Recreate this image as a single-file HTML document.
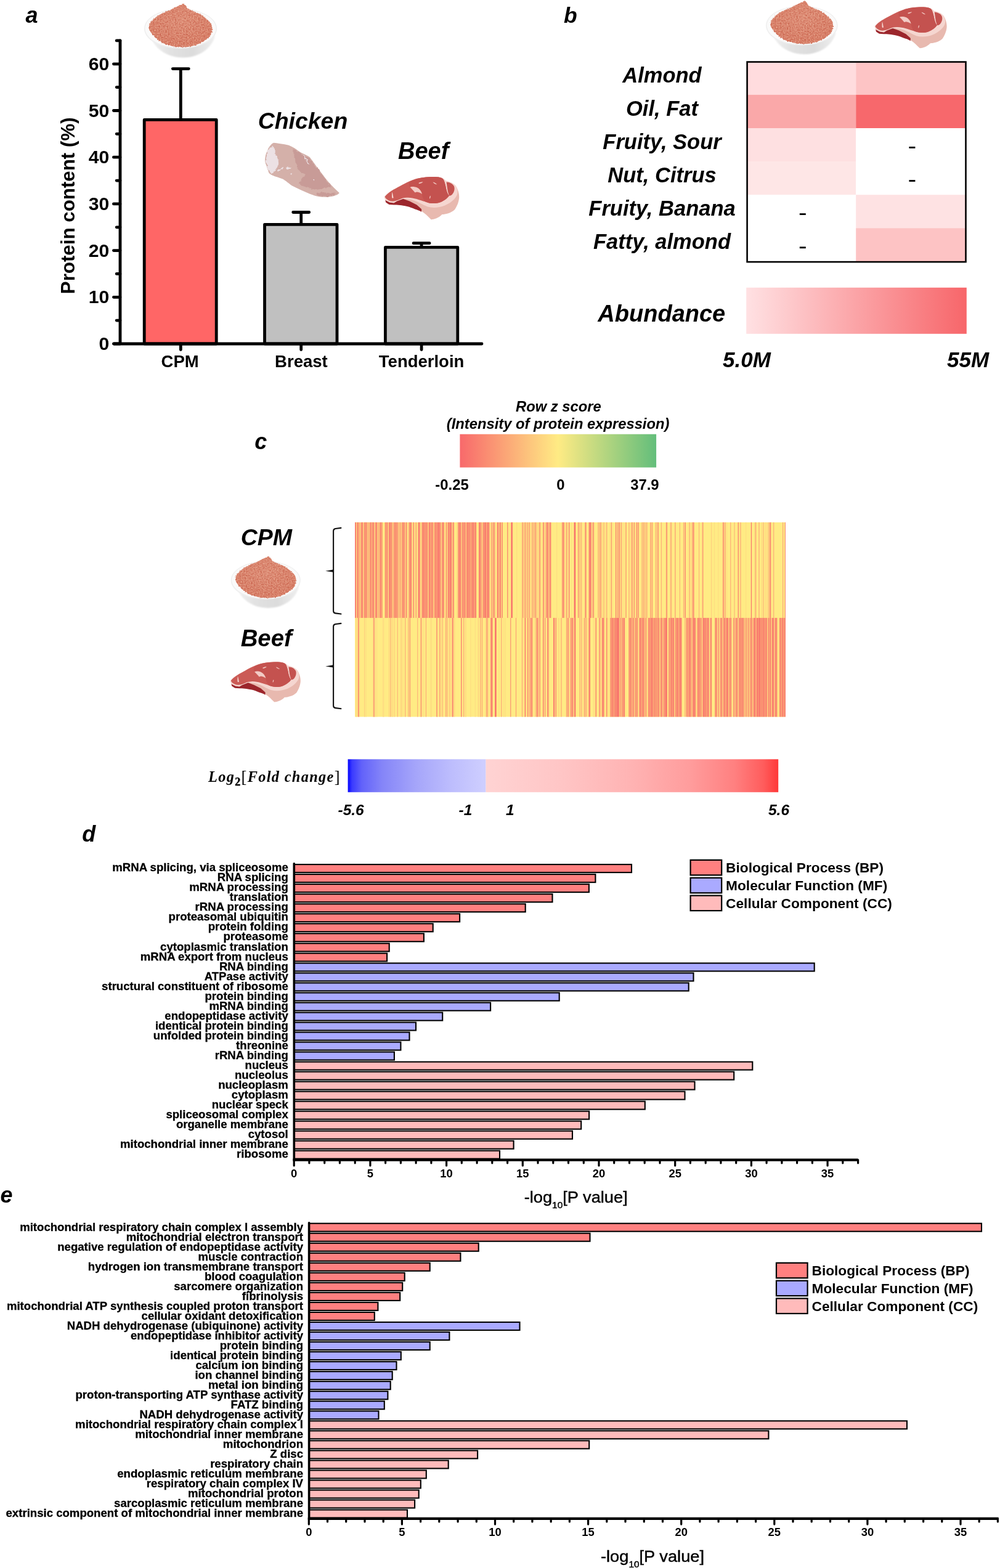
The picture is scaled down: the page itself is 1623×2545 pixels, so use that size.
<!DOCTYPE html>
<html lang="en">
<head>
<meta charset="utf-8">
<title>Figure: protein content, flavour compounds and proteomics of CPM versus beef</title>
<style>
html, body { margin: 0; padding: 0; background: #fff; }
body { width: 1623px; height: 2545px; overflow: hidden; }
svg { display: block; font-family: "Liberation Sans", sans-serif; fill: #000; }
text { white-space: pre; }
</style>
</head>
<body>
<svg width="1623" height="2545" viewBox="0 0 1623 2545">
<defs>
<linearGradient id="gAb" x1="0" x2="1" y1="0" y2="0"><stop offset="0" stop-color="#FFE1E3"/><stop offset="1" stop-color="#F7666A"/></linearGradient>
<linearGradient id="gZ" x1="0" x2="1" y1="0" y2="0"><stop offset="0" stop-color="#F8696B"/><stop offset="0.5" stop-color="#FFEB84"/><stop offset="1" stop-color="#63BE7B"/></linearGradient>
<linearGradient id="gBlue" x1="0" x2="1" y1="0" y2="0"><stop offset="0" stop-color="#0505FF"/><stop offset="0.03" stop-color="#3A3AFF"/><stop offset="0.1" stop-color="#6262FA"/><stop offset="0.25" stop-color="#8585F8"/><stop offset="0.5" stop-color="#A6A6FA"/><stop offset="0.75" stop-color="#BDBDFD"/><stop offset="1" stop-color="#CFCFFF"/></linearGradient>
<linearGradient id="gRed" x1="0" x2="1" y1="0" y2="0"><stop offset="0" stop-color="#FFD3D3"/><stop offset="0.25" stop-color="#FFC6C6"/><stop offset="0.5" stop-color="#FFB3B3"/><stop offset="0.7" stop-color="#FF9C9C"/><stop offset="0.85" stop-color="#FF8080"/><stop offset="0.95" stop-color="#FF5C5C"/><stop offset="1" stop-color="#FF3838"/></linearGradient>
<radialGradient id="gPow" cx="0.5" cy="0.4" r="0.65"><stop offset="0" stop-color="#DF907A"/><stop offset="1" stop-color="#D67B65"/></radialGradient>
<linearGradient id="gBody" x1="0" x2="1" y1="0" y2="0"><stop offset="0" stop-color="#F1F1F1"/><stop offset="0.3" stop-color="#E2E2E2"/><stop offset="0.65" stop-color="#DCDCDC"/><stop offset="1" stop-color="#EFEFEF"/></linearGradient>
<filter id="grain" x="-5%" y="-5%" width="110%" height="110%" color-interpolation-filters="sRGB">
<feTurbulence type="fractalNoise" baseFrequency="0.45" numOctaves="2" seed="11" result="t"/>
<feDisplacementMap in="SourceGraphic" in2="t" scale="3.2" xChannelSelector="R" yChannelSelector="G" result="d"/>
<feColorMatrix in="t" type="matrix" values="0 0 0 0 0.77  0 0 0 0 0.36  0 0 0 0 0.27  2.4 0 0 0 -1.05" result="dk"/>
<feColorMatrix in="t" type="matrix" values="0 0 0 0 0.92  0 0 0 0 0.68  0 0 0 0 0.58  0 2.4 0 0 -1.1" result="lt"/>
<feComposite in="dk" in2="d" operator="in" result="dk2"/>
<feComposite in="lt" in2="d" operator="in" result="lt2"/>
<feMerge><feMergeNode in="d"/><feMergeNode in="dk2"/><feMergeNode in="lt2"/></feMerge>
</filter>
<filter id="rough" x="-5%" y="-5%" width="110%" height="110%" color-interpolation-filters="sRGB">
<feTurbulence type="fractalNoise" baseFrequency="0.22" numOctaves="2" seed="5" result="t"/>
<feDisplacementMap in="SourceGraphic" in2="t" scale="5" xChannelSelector="R" yChannelSelector="G"/>
</filter>
<filter id="soft" x="-10%" y="-10%" width="120%" height="120%"><feGaussianBlur stdDeviation="1.2"/></filter>
<filter id="hblur" x="0" y="0" width="1" height="1" color-interpolation-filters="sRGB"><feGaussianBlur stdDeviation="0.33 0"/></filter>
<g id="bowl">
<path d="M24 58 C30 78 50 93.5 77 93.5 C104 93.5 124 78 129 58 Z" fill="url(#gBody)" filter="url(#soft)"/>
<ellipse cx="73" cy="46.5" rx="59" ry="32.5" fill="#EFEFEF"/>
<ellipse cx="73" cy="46.2" rx="57.4" ry="31" fill="#FAFAFA"/>
<path d="M21.8 43 C23 36 30 29 39 24 C46 20 55 17 62 13.5 C68 10.5 73 8 77.6 5.8 C80 6.8 81.5 9.5 84 13.5 C89 16.5 94 18 98 19.8 C104 22.5 109 25.5 113 29 C118 32.5 122 36.5 123.5 41 C125 46 124.5 52 122 56.5 C119 62 112 67 103 71 C94 75 84 76.8 74 76.6 C63 76.2 53 74 45 70 C37 66 30 60 26 54 C23 50 21.3 46.5 21.8 43 Z" fill="url(#gPow)" filter="url(#grain)"/>
</g>
<g id="beef">
<path d="M13.7 49.8 C20 42 30 37 39 32.2 C50 26 60 21.5 68.4 19.5 C78 17.3 90 16.5 100 17.3 C106 18 110 19.5 113.3 23.4 C120 24.5 127 28 130 32.2 C134 38 135.5 46 135.2 50.8 C134.5 59 131 66 128 70.3 C122 76 113 78 107.5 78.1 C102 84 95 86 89.8 86.4 C85 82 80 76 73.2 72.3 C63 67 52 63 34.2 60.5 C27 61 20 59 16.6 56.6 Z" fill="#E8B9AF"/>
<path d="M15.2 54.8 L22.5 58.2 L29.3 58.6 L34.2 55.6 L43.5 52.5 L54.7 56.6 L66.4 62.5 L74.2 69.5 L74 73.8 C70 71.5 67 70.5 63.5 69.5 C59 67.5 55 66 50.8 65 C46 64 42 63.3 39 63 C35 62.6 32 62.5 29.3 62.5 L21.5 62 L16.2 58.5 Z" fill="#9C262C"/>
<path d="M13.7 49.8 C20 42 30 37 39 32.2 C50 26 60 21.5 68.4 19.5 C78 17.3 90 16.5 100 17.3 C106 18 110 19.5 113.3 23.4 C120 24.5 127 28 130 32.2 C133 37 133.5 43 131 48 C127 55 120 60 112 63.5 C103 67 93 68 84 65.5 C75 62 66 56 57 54 C50 52.8 46 52.5 43 53.2 L34.2 56.6 L29.3 59.6 L22.5 58.6 L15.2 54.8 Z" fill="#F5D6D0"/>
<path d="M14.6 49.3 C20 42 30 37 39 32.2 C50 26 60 21.5 68.4 19.5 C78 17.3 90 16.5 100 17.3 C106 18 108.5 19.5 110.3 22.4 C112 26 113.5 32 114.5 38 C115.5 42 117 46 119 47.5 C116 52 110 56.5 104 58.5 C96 61 87 60.5 80.5 57.5 C77 55.5 75.5 51 74.7 47.5 C73 45 70 42.5 66 41.5 C62 42 60 43 63 41 C60 38 57 35 55.5 34 C58 32.5 63 33 67 34.5 C71 36.5 74 40.5 75 45 C75.5 50 77 54 80.5 57.5 C70 54.5 60 50 50 50.8 C45 51 42 52 39 53.5 C34 56 29 57 24.4 56.5 C20 55.5 16 53 14.6 49.3 Z" fill="#CB5B56"/>
<path d="M55.5 24.5 C62 21.5 70 18.8 78 18 C88 16.8 98 16.8 104 18 C108 19 109.5 20.5 110.3 22.4 C112 26 113.5 32 114.5 38 C115.5 42 117 46 119 47.5 C116 52 110 56.5 104 58.5 C96 61 87 60.5 80.5 57.5 C77 54 75.5 50 75 45 C74 40.5 71 36.5 67 34.5 C63 33 58 32.5 55.5 34 C53.5 31 53.5 27.5 55.5 24.5 Z" fill="#C4524F"/>
<path d="M114.5 25.5 C120 25.5 125 28.5 127 32.5 C128.5 37 127 42 124 45.5 C122 47.5 120 48 119 47.5 C117.5 44 116.5 40 116 36 C115.5 32 115 28.5 114.5 25.5 Z" fill="#C4524F"/>
<path d="M55.5 34 C58 32.5 63 33 67 34.5 C71 36.5 74 40.5 75 45 C73 43.5 70 42 66.5 41.6 L63.5 42.5 C61 39.5 58 36 55.5 34 Z" fill="#F2CBC5"/>
<path d="M26.5 41.5 C27.5 44.5 28 48 28.6 51 C28 52 26.8 52 26.2 51 C25.8 48 26 44.5 26.5 41.5 Z" fill="#F5D6D0"/>
<path d="M69.5 27 C71.5 25.8 74.5 25 76.5 25.3 C75.5 26.8 72.5 28 70 28.2 Z M92.5 25.5 C95 26 98 27.8 99.3 29.3 C97 29.5 94 27.8 92.5 25.5 Z M88.5 47.5 C89.3 49 88.5 51.5 87.3 52.8 C86.8 51 87.3 48.8 88.5 47.5 Z" fill="#F2CBC5"/>
</g>
<g id="chicken">
<path d="M29.3 6.8 C34 7 45 9 53.7 10.7 C60 13 67 18 73.2 22.5 C80 26 85 28 87.9 30.3 C93 37 100 47 107.4 56.6 C114 66 124 78 135.7 87.9 C134 91 128 93.5 117.2 94.7 C108 95.3 98 94 87.9 89.8 C78 85.5 68 81 58.6 76.2 C52 71 46 66.5 43.9 65.4 C38 63.5 32 61.5 29.3 60.5 C25 58.5 22.5 57 21.5 55.7 C19.5 50 17.5 46 17.6 43.9 C15.5 40 15 36.5 15.1 34.2 C15.5 29 16.5 25 17.6 22.5 C19.5 17.5 21 14.5 22.5 12.7 C25 9.5 27 7.5 29.3 6.8 Z" fill="#D4B0A9"/>
<g filter="url(#rough)">
<path d="M61 17 C66 19 72 22 77 26 C83 29 87 31 89 34 C95 42 101 50 107.4 58 C113 66 120 75 124 79 C118 78 112 79 106 82 C100 83 94 83 88 81 C80 79 74 76 70 72 C72 68 76 63 80 58 C76 55 70 52 68 49 C66 44 66 38 64 33 C62 28 61 22 61 17 Z" fill="#C89B97"/>
<path d="M99 88 C106 86.5 114 87 121 89 C125 89.5 128 89 131 88 C129 91 124 93 117 94 C110 94.5 104 93.5 100 92 C98.5 91 98.5 89.5 99 88 Z" fill="#C89B97"/>
<path d="M23.5 14.5 C25.5 12.5 28 12.5 29.5 14 C31 18 32 24 34 29 C36.5 33 37.5 38 37 42 C35 47 31 52 28 55 C25 56 23.5 55 22.5 53.5 C20.5 49.5 18.8 45 18.8 43 C17 39 16.8 36 16.8 34 C17 29 18 25 19 22.5 C20.5 18 22 16 23.5 14.5 Z" fill="#ECE1E4"/>
<path d="M36 51 C39 49 43 47.5 46 47 C44 50 40 52.5 37 53.5 Z M50 46.5 C53 45.5 56 45.5 58 46.5 C56 48.5 53 50 51 50 Z M76 25 C79 27.5 83 33 86 40 C86.5 42 85.5 42.5 84.5 41 C82 36 79 30 76 25 Z M56 57 L59 56 L58 59 Z M92 66 L96 66 L94 68.5 Z" fill="#ECE1E4"/>
</g>
</g>
</defs>

<g id="panel-a">
<text x="41.5" y="36.8" font-size="36" font-weight="bold" font-style="italic" text-anchor="start">a</text>
<path d="M293.3 194.4 V111.6 M280.3 111.6 H306.3" stroke="#000" stroke-width="4.8" stroke-linecap="round" fill="none"/>
<rect x="234.2" y="194.4" width="117.0" height="363.6" fill="#FF6666" stroke="#000" stroke-width="4.8" stroke-linejoin="round"/>
<path d="M488.7 364.3 V344.5 M475.7 344.5 H501.7" stroke="#000" stroke-width="4.8" stroke-linecap="round" fill="none"/>
<rect x="429.5" y="364.3" width="117.5" height="193.7" fill="#C0C0C0" stroke="#000" stroke-width="4.8" stroke-linejoin="round"/>
<path d="M684.1 401.4 V394.7 M671.1 394.7 H697.1" stroke="#000" stroke-width="4.8" stroke-linecap="round" fill="none"/>
<rect x="625.4" y="401.4" width="117.4" height="156.6" fill="#C0C0C0" stroke="#000" stroke-width="4.8" stroke-linejoin="round"/>
<path d="M195 66 V558.0 M185 558.0 H782" stroke="#000" stroke-width="4.8" stroke-linecap="round" fill="none"/>
<path d="M184.4 558.0 H195 M189.2 520.1 H195 M184.4 482.3 H195 M189.2 444.4 H195 M184.4 406.6 H195 M189.2 368.8 H195 M184.4 330.9 H195 M189.2 293.1 H195 M184.4 255.2 H195 M189.2 217.3 H195 M184.4 179.5 H195 M189.2 141.6 H195 M184.4 103.8 H195 M189.2 65.9 H195 M293.3 558.0 V567.5 M488.7 558.0 V567.5 M684.1 558.0 V567.5 " stroke="#000" stroke-width="4.8" stroke-linecap="round" fill="none"/>
<text x="177.3" y="568.0" font-size="30.2" font-weight="bold" font-style="normal" text-anchor="end">0</text>
<text x="177.3" y="492.3" font-size="30.2" font-weight="bold" font-style="normal" text-anchor="end">10</text>
<text x="177.3" y="416.6" font-size="30.2" font-weight="bold" font-style="normal" text-anchor="end">20</text>
<text x="177.3" y="340.9" font-size="30.2" font-weight="bold" font-style="normal" text-anchor="end">30</text>
<text x="177.3" y="265.2" font-size="30.2" font-weight="bold" font-style="normal" text-anchor="end">40</text>
<text x="177.3" y="189.5" font-size="30.2" font-weight="bold" font-style="normal" text-anchor="end">50</text>
<text x="177.3" y="113.8" font-size="30.2" font-weight="bold" font-style="normal" text-anchor="end">60</text>
<text x="292.1" y="596" font-size="27.5" font-weight="bold" font-style="normal" text-anchor="middle">CPM</text>
<text x="488.9" y="596" font-size="27.5" font-weight="bold" font-style="normal" text-anchor="middle">Breast</text>
<text x="684.1" y="596" font-size="27.5" font-weight="bold" font-style="normal" text-anchor="middle">Tenderloin</text>
<text transform="translate(121 333.8) rotate(-90)" font-size="31.3" font-weight="bold" text-anchor="middle">Protein content (%)</text>
<text x="491.5" y="209.4" font-size="37.4" font-weight="bold" font-style="italic" text-anchor="middle">Chicken</text>
<text x="687.2" y="257.5" font-size="38" font-weight="bold" font-style="italic" text-anchor="middle">Beef</text>
<use href="#bowl" x="220" y="0"/>
<use href="#chicken" x="415" y="225"/>
<use href="#beef" x="610" y="270"/>
</g>
<g id="panel-b">
<text x="915.0" y="36.5" font-size="35.5" font-weight="bold" font-style="italic" text-anchor="start">b</text>
<use href="#bowl" transform="translate(1229.2 -4.4) scale(0.988)"/>
<use href="#beef" transform="translate(1406.4 -4.9) scale(0.963)"/>
<rect x="1212.6" y="100.5" width="176.6" height="53.7" fill="#FFDCDE"/>
<rect x="1389.2" y="100.5" width="178.3" height="53.7" fill="#FDC4C5"/>
<text x="1074.5" y="133.7" font-size="34.5" font-weight="bold" font-style="italic" text-anchor="middle">Almond</text>
<rect x="1212.6" y="153.9" width="176.6" height="54.4" fill="#FAA8A9"/>
<rect x="1389.2" y="153.9" width="178.3" height="54.4" fill="#F7686C"/>
<text x="1074.5" y="187.7" font-size="34.5" font-weight="bold" font-style="italic" text-anchor="middle">Oil, Fat</text>
<rect x="1212.6" y="208.0" width="176.6" height="54.4" fill="#FEE0E1"/>
<rect x="1389.2" y="208.0" width="178.3" height="54.4" fill="#FFFFFF"/>
<text x="1074.5" y="241.7" font-size="34.5" font-weight="bold" font-style="italic" text-anchor="middle">Fruity, Sour</text>
<rect x="1212.6" y="262.1" width="176.6" height="54.4" fill="#FEE6E6"/>
<rect x="1389.2" y="262.1" width="178.3" height="54.4" fill="#FFFFFF"/>
<text x="1074.5" y="295.8" font-size="34.5" font-weight="bold" font-style="italic" text-anchor="middle">Nut, Citrus</text>
<rect x="1212.6" y="316.2" width="176.6" height="54.4" fill="#FFFFFF"/>
<rect x="1389.2" y="316.2" width="178.3" height="54.4" fill="#FEE2E3"/>
<text x="1074.5" y="349.8" font-size="34.5" font-weight="bold" font-style="italic" text-anchor="middle">Fruity, Banana</text>
<rect x="1212.6" y="370.3" width="176.6" height="55.1" fill="#FFFFFF"/>
<rect x="1389.2" y="370.3" width="178.3" height="55.1" fill="#FDC3C4"/>
<text x="1074.5" y="403.8" font-size="34.5" font-weight="bold" font-style="italic" text-anchor="middle">Fatty, almond</text>
<rect x="1475.4" y="238.0" width="10" height="2.8" fill="#000"/>
<rect x="1475.4" y="292.1" width="10" height="2.8" fill="#000"/>
<rect x="1297.8" y="346.20000000000005" width="10" height="2.8" fill="#000"/>
<rect x="1297.8" y="400.40000000000003" width="10" height="2.8" fill="#000"/>
<rect x="1212.6" y="100.5" width="354.9" height="324.6" fill="none" stroke="#000" stroke-width="2.6"/>
<rect x="1211.2" y="466.8" width="357.6" height="75" fill="url(#gAb)"/>
<text x="1073.8" y="521.5" font-size="38" font-weight="bold" font-style="italic" text-anchor="middle">Abundance</text>
<text x="1212" y="595.8" font-size="35" font-weight="bold" font-style="italic" text-anchor="middle">5.0M</text>
<text x="1571" y="595.8" font-size="35" font-weight="bold" font-style="italic" text-anchor="middle">55M</text>
</g>
<g id="panel-c">
<text x="413.2" y="729.4" font-size="36" font-weight="bold" font-style="italic" text-anchor="start">c</text>
<text x="906.4" y="667.8" font-size="23.75" font-weight="bold" font-style="italic" text-anchor="middle">Row z score</text>
<text x="905.6" y="695.6" font-size="23.75" font-weight="bold" font-style="italic" text-anchor="middle">(Intensity of protein expression)</text>
<rect x="746.4" y="704.7" width="318.7" height="54" fill="url(#gZ)"/>
<text x="733.5" y="794.8" font-size="23.9" font-weight="bold" font-style="normal" text-anchor="middle">-0.25</text>
<text x="909.8" y="794.8" font-size="23.9" font-weight="bold" font-style="normal" text-anchor="middle">0</text>
<text x="1046.4" y="794.8" font-size="23.9" font-weight="bold" font-style="normal" text-anchor="middle">37.9</text>
<text x="432.4" y="885.0" font-size="37.5" font-weight="bold" font-style="italic" text-anchor="middle">CPM</text>
<text x="432.2" y="1049.2" font-size="38.3" font-weight="bold" font-style="italic" text-anchor="middle">Beef</text>
<use href="#bowl" transform="translate(361.3 897.2) scale(0.958)"/>
<use href="#beef" transform="translate(361.1 1058.6) scale(0.937)"/>
<path d="M553.4 856.9 L544.6 858.0 Q541.1 858.5 541.1 861.9 V991.5 Q541.1 994.9 544.6 995.4 L553.4 996.5" stroke="#111" stroke-width="2.1" fill="none" stroke-linecap="round" stroke-linejoin="round"/>
<path d="M528.2 926.7 L539.6 924.8 L541.6 923.1 V930.3 L539.6 928.6 Z" fill="#111"/>
<path d="M553.4 1011.9 L544.6 1013.0 Q541.1 1013.5 541.1 1016.9 V1145.2 Q541.1 1148.6 544.6 1149.1 L553.4 1150.2" stroke="#111" stroke-width="2.1" fill="none" stroke-linecap="round" stroke-linejoin="round"/>
<path d="M528.2 1081.4 L539.6 1079.5 L541.6 1077.8 V1085.0 L539.6 1083.3 Z" fill="#111"/>
<g filter="url(#hblur)">
<rect x="576.0" y="847.8" width="699.0" height="315.7" fill="#FFEB84"/>
<rect x="576.00" y="847.8" width="1.25" height="155.1" fill="#F98370"/><rect x="577.25" y="847.8" width="1.25" height="155.1" fill="#F8706C"/><rect x="578.50" y="847.8" width="1.25" height="155.1" fill="#FEDE82"/><rect x="579.74" y="847.8" width="1.25" height="155.1" fill="#F8706C"/><rect x="580.99" y="847.8" width="1.25" height="155.1" fill="#F98370"/><rect x="583.49" y="847.8" width="1.25" height="155.1" fill="#F98370"/><rect x="585.99" y="847.8" width="1.25" height="155.1" fill="#F97C6F"/><rect x="587.23" y="847.8" width="1.25" height="155.1" fill="#F8706C"/><rect x="588.48" y="847.8" width="1.25" height="155.1" fill="#FA9072"/><rect x="590.98" y="847.8" width="2.50" height="155.1" fill="#F98370"/><rect x="593.48" y="847.8" width="1.25" height="155.1" fill="#FA8A71"/><rect x="594.72" y="847.8" width="1.25" height="155.1" fill="#F98370"/><rect x="595.97" y="847.8" width="1.25" height="155.1" fill="#FEDE82"/><rect x="597.22" y="847.8" width="1.25" height="155.1" fill="#FA9072"/><rect x="599.72" y="847.8" width="1.25" height="155.1" fill="#F98370"/><rect x="600.96" y="847.8" width="1.25" height="155.1" fill="#FA9072"/><rect x="602.21" y="847.8" width="2.50" height="155.1" fill="#FB9D75"/><rect x="604.71" y="847.8" width="2.50" height="155.1" fill="#F98370"/><rect x="608.45" y="847.8" width="1.25" height="155.1" fill="#FA9072"/><rect x="609.70" y="847.8" width="1.25" height="155.1" fill="#FA8A71"/><rect x="610.95" y="847.8" width="1.25" height="155.1" fill="#F97C6F"/><rect x="613.45" y="847.8" width="1.25" height="155.1" fill="#FA9072"/><rect x="615.94" y="847.8" width="1.25" height="155.1" fill="#F97C6F"/><rect x="617.19" y="847.8" width="2.50" height="155.1" fill="#FA9072"/><rect x="619.69" y="847.8" width="1.25" height="155.1" fill="#FB9D75"/><rect x="624.68" y="847.8" width="1.25" height="155.1" fill="#FA8A71"/><rect x="625.93" y="847.8" width="1.25" height="155.1" fill="#FB9D75"/><rect x="627.18" y="847.8" width="2.50" height="155.1" fill="#FA9072"/><rect x="630.92" y="847.8" width="1.25" height="155.1" fill="#F97C6F"/><rect x="632.17" y="847.8" width="2.50" height="155.1" fill="#F98370"/><rect x="634.67" y="847.8" width="1.25" height="155.1" fill="#FA9072"/><rect x="635.91" y="847.8" width="1.25" height="155.1" fill="#FB9D75"/><rect x="638.41" y="847.8" width="1.25" height="155.1" fill="#FA8A71"/><rect x="639.66" y="847.8" width="1.25" height="155.1" fill="#FA9072"/><rect x="640.91" y="847.8" width="1.25" height="155.1" fill="#FA8A71"/><rect x="642.16" y="847.8" width="2.50" height="155.1" fill="#FA9072"/><rect x="644.65" y="847.8" width="1.25" height="155.1" fill="#F98370"/><rect x="647.15" y="847.8" width="1.25" height="155.1" fill="#F98370"/><rect x="648.40" y="847.8" width="1.25" height="155.1" fill="#FEDE82"/><rect x="649.64" y="847.8" width="1.25" height="155.1" fill="#FA8A71"/><rect x="652.14" y="847.8" width="1.25" height="155.1" fill="#FA9072"/><rect x="653.39" y="847.8" width="1.25" height="155.1" fill="#F8706C"/><rect x="654.64" y="847.8" width="2.50" height="155.1" fill="#FA9072"/><rect x="658.38" y="847.8" width="1.25" height="155.1" fill="#F97C6F"/><rect x="659.63" y="847.8" width="1.25" height="155.1" fill="#FB9D75"/><rect x="663.38" y="847.8" width="1.25" height="155.1" fill="#F98370"/><rect x="664.62" y="847.8" width="1.25" height="155.1" fill="#FA9072"/><rect x="665.87" y="847.8" width="1.25" height="155.1" fill="#F97C6F"/><rect x="667.12" y="847.8" width="1.25" height="155.1" fill="#FA9072"/><rect x="669.62" y="847.8" width="1.25" height="155.1" fill="#FED17F"/><rect x="670.86" y="847.8" width="1.25" height="155.1" fill="#F97C6F"/><rect x="674.61" y="847.8" width="1.25" height="155.1" fill="#FA8A71"/><rect x="678.35" y="847.8" width="2.50" height="155.1" fill="#F98370"/><rect x="680.85" y="847.8" width="1.25" height="155.1" fill="#FA9072"/><rect x="682.10" y="847.8" width="2.50" height="155.1" fill="#FEDE82"/><rect x="684.59" y="847.8" width="1.25" height="155.1" fill="#F97C6F"/><rect x="685.84" y="847.8" width="1.25" height="155.1" fill="#FA8A71"/><rect x="687.09" y="847.8" width="2.50" height="155.1" fill="#F98370"/><rect x="689.59" y="847.8" width="1.25" height="155.1" fill="#FA9072"/><rect x="690.84" y="847.8" width="1.25" height="155.1" fill="#F98370"/><rect x="692.08" y="847.8" width="1.25" height="155.1" fill="#FA9072"/><rect x="693.33" y="847.8" width="1.25" height="155.1" fill="#F98370"/><rect x="695.83" y="847.8" width="1.25" height="155.1" fill="#F8706C"/><rect x="697.08" y="847.8" width="1.25" height="155.1" fill="#FA8A71"/><rect x="698.33" y="847.8" width="1.25" height="155.1" fill="#F98370"/><rect x="699.57" y="847.8" width="3.74" height="155.1" fill="#FA9072"/><rect x="704.57" y="847.8" width="1.25" height="155.1" fill="#F98370"/><rect x="705.81" y="847.8" width="1.25" height="155.1" fill="#FB9D75"/><rect x="707.06" y="847.8" width="1.25" height="155.1" fill="#F8706C"/><rect x="708.31" y="847.8" width="1.25" height="155.1" fill="#FA9072"/><rect x="709.56" y="847.8" width="2.50" height="155.1" fill="#F97C6F"/><rect x="712.06" y="847.8" width="2.50" height="155.1" fill="#F98370"/><rect x="714.55" y="847.8" width="1.25" height="155.1" fill="#FA9072"/><rect x="717.05" y="847.8" width="1.25" height="155.1" fill="#F97C6F"/><rect x="718.30" y="847.8" width="1.25" height="155.1" fill="#F98370"/><rect x="719.54" y="847.8" width="1.25" height="155.1" fill="#F8706C"/><rect x="723.29" y="847.8" width="1.25" height="155.1" fill="#FB9D75"/><rect x="724.54" y="847.8" width="1.25" height="155.1" fill="#FA9072"/><rect x="725.79" y="847.8" width="1.25" height="155.1" fill="#FEDE82"/><rect x="727.03" y="847.8" width="1.25" height="155.1" fill="#F8706C"/><rect x="728.28" y="847.8" width="1.25" height="155.1" fill="#F97C6F"/><rect x="729.53" y="847.8" width="3.74" height="155.1" fill="#F98370"/><rect x="734.52" y="847.8" width="1.25" height="155.1" fill="#F98370"/><rect x="735.77" y="847.8" width="1.25" height="155.1" fill="#FA9072"/><rect x="740.76" y="847.8" width="2.50" height="155.1" fill="#FEDE82"/><rect x="743.26" y="847.8" width="1.25" height="155.1" fill="#F98370"/><rect x="744.51" y="847.8" width="1.25" height="155.1" fill="#F8706C"/><rect x="745.76" y="847.8" width="2.50" height="155.1" fill="#F98370"/><rect x="749.50" y="847.8" width="1.25" height="155.1" fill="#F97C6F"/><rect x="750.75" y="847.8" width="1.25" height="155.1" fill="#FA9072"/><rect x="752.00" y="847.8" width="1.25" height="155.1" fill="#FB9D75"/><rect x="753.25" y="847.8" width="1.25" height="155.1" fill="#F97C6F"/><rect x="754.49" y="847.8" width="1.25" height="155.1" fill="#F8706C"/><rect x="756.99" y="847.8" width="1.25" height="155.1" fill="#F97C6F"/><rect x="758.24" y="847.8" width="1.25" height="155.1" fill="#F8706C"/><rect x="759.49" y="847.8" width="1.25" height="155.1" fill="#F97C6F"/><rect x="760.74" y="847.8" width="1.25" height="155.1" fill="#F98370"/><rect x="761.98" y="847.8" width="2.50" height="155.1" fill="#FB9D75"/><rect x="764.48" y="847.8" width="1.25" height="155.1" fill="#F98370"/><rect x="765.73" y="847.8" width="1.25" height="155.1" fill="#FA8A71"/><rect x="766.98" y="847.8" width="2.50" height="155.1" fill="#F98370"/><rect x="769.47" y="847.8" width="1.25" height="155.1" fill="#FA9072"/><rect x="770.72" y="847.8" width="1.25" height="155.1" fill="#F97C6F"/><rect x="771.97" y="847.8" width="1.25" height="155.1" fill="#FA9072"/><rect x="776.96" y="847.8" width="2.50" height="155.1" fill="#F98370"/><rect x="779.46" y="847.8" width="1.25" height="155.1" fill="#F97C6F"/><rect x="780.71" y="847.8" width="1.25" height="155.1" fill="#FB9D75"/><rect x="783.20" y="847.8" width="2.50" height="155.1" fill="#FA9072"/><rect x="785.70" y="847.8" width="1.25" height="155.1" fill="#F98370"/><rect x="786.95" y="847.8" width="1.25" height="155.1" fill="#F97C6F"/><rect x="788.20" y="847.8" width="1.25" height="155.1" fill="#F8706C"/><rect x="789.44" y="847.8" width="1.25" height="155.1" fill="#FB9D75"/><rect x="790.69" y="847.8" width="1.25" height="155.1" fill="#F8706C"/><rect x="791.94" y="847.8" width="1.25" height="155.1" fill="#FA8A71"/><rect x="793.19" y="847.8" width="1.25" height="155.1" fill="#F97C6F"/><rect x="796.93" y="847.8" width="1.25" height="155.1" fill="#FA9072"/><rect x="799.43" y="847.8" width="1.25" height="155.1" fill="#F98370"/><rect x="800.68" y="847.8" width="1.25" height="155.1" fill="#FCAA78"/><rect x="801.93" y="847.8" width="1.25" height="155.1" fill="#FA9072"/><rect x="803.17" y="847.8" width="2.50" height="155.1" fill="#FEDE82"/><rect x="806.92" y="847.8" width="1.25" height="155.1" fill="#F8706C"/><rect x="808.17" y="847.8" width="1.25" height="155.1" fill="#F98370"/><rect x="810.66" y="847.8" width="1.25" height="155.1" fill="#F8706C"/><rect x="811.91" y="847.8" width="1.25" height="155.1" fill="#FA9072"/><rect x="814.41" y="847.8" width="1.25" height="155.1" fill="#F8706C"/><rect x="823.15" y="847.8" width="1.25" height="155.1" fill="#F98370"/><rect x="825.64" y="847.8" width="1.25" height="155.1" fill="#FEDE82"/><rect x="829.39" y="847.8" width="2.50" height="155.1" fill="#F8706C"/><rect x="831.88" y="847.8" width="1.25" height="155.1" fill="#FEDE82"/><rect x="838.12" y="847.8" width="1.25" height="155.1" fill="#FEDE82"/><rect x="846.86" y="847.8" width="1.25" height="155.1" fill="#FCB77A"/><rect x="848.11" y="847.8" width="1.25" height="155.1" fill="#FB9D75"/><rect x="850.61" y="847.8" width="1.25" height="155.1" fill="#FCAA78"/><rect x="851.86" y="847.8" width="1.25" height="155.1" fill="#FCB77A"/><rect x="853.10" y="847.8" width="1.25" height="155.1" fill="#FCB079"/><rect x="855.60" y="847.8" width="1.25" height="155.1" fill="#FA9072"/><rect x="858.10" y="847.8" width="1.25" height="155.1" fill="#FB9D75"/><rect x="859.34" y="847.8" width="1.25" height="155.1" fill="#FCB079"/><rect x="863.09" y="847.8" width="1.25" height="155.1" fill="#FA9072"/><rect x="865.59" y="847.8" width="1.25" height="155.1" fill="#FB9D75"/><rect x="868.08" y="847.8" width="1.25" height="155.1" fill="#F9766E"/><rect x="870.58" y="847.8" width="1.25" height="155.1" fill="#FCB079"/><rect x="874.32" y="847.8" width="1.25" height="155.1" fill="#FCB079"/><rect x="875.57" y="847.8" width="1.25" height="155.1" fill="#FA9072"/><rect x="876.82" y="847.8" width="1.25" height="155.1" fill="#FED17F"/><rect x="880.56" y="847.8" width="1.25" height="155.1" fill="#FCB77A"/><rect x="881.81" y="847.8" width="1.25" height="155.1" fill="#F98370"/><rect x="883.06" y="847.8" width="2.50" height="155.1" fill="#FEDE82"/><rect x="885.56" y="847.8" width="2.50" height="155.1" fill="#FBA476"/><rect x="888.05" y="847.8" width="1.25" height="155.1" fill="#F8706C"/><rect x="889.30" y="847.8" width="1.25" height="155.1" fill="#FBA476"/><rect x="890.55" y="847.8" width="2.50" height="155.1" fill="#FCAA78"/><rect x="893.05" y="847.8" width="1.25" height="155.1" fill="#F8706C"/><rect x="903.03" y="847.8" width="1.25" height="155.1" fill="#FEDE82"/><rect x="911.77" y="847.8" width="1.25" height="155.1" fill="#FCAA78"/><rect x="913.02" y="847.8" width="1.25" height="155.1" fill="#FA9674"/><rect x="914.27" y="847.8" width="1.25" height="155.1" fill="#F8706C"/><rect x="916.76" y="847.8" width="1.25" height="155.1" fill="#FED17F"/><rect x="919.26" y="847.8" width="1.25" height="155.1" fill="#F98370"/><rect x="923.00" y="847.8" width="1.25" height="155.1" fill="#F8706C"/><rect x="926.75" y="847.8" width="1.25" height="155.1" fill="#FEDE82"/><rect x="930.49" y="847.8" width="1.25" height="155.1" fill="#FEDE82"/><rect x="931.74" y="847.8" width="2.50" height="155.1" fill="#F8706C"/><rect x="937.98" y="847.8" width="1.25" height="155.1" fill="#F98370"/><rect x="940.48" y="847.8" width="1.25" height="155.1" fill="#FBA476"/><rect x="942.98" y="847.8" width="1.25" height="155.1" fill="#FCAA78"/><rect x="949.22" y="847.8" width="2.50" height="155.1" fill="#FA9674"/><rect x="955.46" y="847.8" width="1.25" height="155.1" fill="#FA9072"/><rect x="956.71" y="847.8" width="1.25" height="155.1" fill="#F8706C"/><rect x="957.95" y="847.8" width="1.25" height="155.1" fill="#F98370"/><rect x="959.20" y="847.8" width="1.25" height="155.1" fill="#FCAA78"/><rect x="961.70" y="847.8" width="1.25" height="155.1" fill="#FA9674"/><rect x="962.95" y="847.8" width="1.25" height="155.1" fill="#FBA476"/><rect x="970.44" y="847.8" width="1.25" height="155.1" fill="#FB9D75"/><rect x="972.93" y="847.8" width="1.25" height="155.1" fill="#FB9D75"/><rect x="974.18" y="847.8" width="1.25" height="155.1" fill="#FCAA78"/><rect x="975.43" y="847.8" width="1.25" height="155.1" fill="#FCB77A"/><rect x="976.68" y="847.8" width="1.25" height="155.1" fill="#FEDE82"/><rect x="979.17" y="847.8" width="1.25" height="155.1" fill="#FCB77A"/><rect x="980.42" y="847.8" width="1.25" height="155.1" fill="#FED17F"/><rect x="982.92" y="847.8" width="1.25" height="155.1" fill="#FEDE82"/><rect x="984.17" y="847.8" width="1.25" height="155.1" fill="#FCAA78"/><rect x="989.16" y="847.8" width="1.25" height="155.1" fill="#FEDE82"/><rect x="991.66" y="847.8" width="1.25" height="155.1" fill="#FA9072"/><rect x="992.90" y="847.8" width="1.25" height="155.1" fill="#FEDE82"/><rect x="997.90" y="847.8" width="1.25" height="155.1" fill="#FEDE82"/><rect x="999.14" y="847.8" width="1.25" height="155.1" fill="#F9766E"/><rect x="1000.39" y="847.8" width="1.25" height="155.1" fill="#FEDE82"/><rect x="1001.64" y="847.8" width="1.25" height="155.1" fill="#FA9072"/><rect x="1002.89" y="847.8" width="1.25" height="155.1" fill="#FEDE82"/><rect x="1004.14" y="847.8" width="1.25" height="155.1" fill="#F9766E"/><rect x="1005.39" y="847.8" width="1.25" height="155.1" fill="#FCAA78"/><rect x="1006.63" y="847.8" width="1.25" height="155.1" fill="#FEDE82"/><rect x="1007.88" y="847.8" width="1.25" height="155.1" fill="#FB9D75"/><rect x="1010.38" y="847.8" width="1.25" height="155.1" fill="#FEDE82"/><rect x="1012.88" y="847.8" width="1.25" height="155.1" fill="#FEDE82"/><rect x="1015.37" y="847.8" width="1.25" height="155.1" fill="#FA9072"/><rect x="1020.36" y="847.8" width="1.25" height="155.1" fill="#FCAA78"/><rect x="1024.11" y="847.8" width="1.25" height="155.1" fill="#FCAA78"/><rect x="1025.36" y="847.8" width="1.25" height="155.1" fill="#FCB079"/><rect x="1026.61" y="847.8" width="1.25" height="155.1" fill="#FCAA78"/><rect x="1029.10" y="847.8" width="1.25" height="155.1" fill="#FA9072"/><rect x="1032.85" y="847.8" width="1.25" height="155.1" fill="#F9766E"/><rect x="1035.34" y="847.8" width="1.25" height="155.1" fill="#F9766E"/><rect x="1041.58" y="847.8" width="1.25" height="155.1" fill="#FB9D75"/><rect x="1042.83" y="847.8" width="1.25" height="155.1" fill="#FEDE82"/><rect x="1044.08" y="847.8" width="1.25" height="155.1" fill="#FB9D75"/><rect x="1045.33" y="847.8" width="1.25" height="155.1" fill="#FED17F"/><rect x="1046.58" y="847.8" width="1.25" height="155.1" fill="#FCB079"/><rect x="1049.07" y="847.8" width="1.25" height="155.1" fill="#FB9D75"/><rect x="1055.31" y="847.8" width="1.25" height="155.1" fill="#FA9072"/><rect x="1057.81" y="847.8" width="1.25" height="155.1" fill="#FA9072"/><rect x="1064.05" y="847.8" width="1.25" height="155.1" fill="#FB9D75"/><rect x="1065.30" y="847.8" width="1.25" height="155.1" fill="#FEDE82"/><rect x="1066.55" y="847.8" width="1.25" height="155.1" fill="#FCAA78"/><rect x="1067.80" y="847.8" width="1.25" height="155.1" fill="#FB9D75"/><rect x="1072.79" y="847.8" width="1.25" height="155.1" fill="#FCB079"/><rect x="1080.28" y="847.8" width="1.25" height="155.1" fill="#FED17F"/><rect x="1081.53" y="847.8" width="1.25" height="155.1" fill="#F9766E"/><rect x="1087.77" y="847.8" width="2.50" height="155.1" fill="#FCB77A"/><rect x="1095.26" y="847.8" width="1.25" height="155.1" fill="#FB9D75"/><rect x="1102.75" y="847.8" width="1.25" height="155.1" fill="#FCB77A"/><rect x="1108.99" y="847.8" width="1.25" height="155.1" fill="#FCAA78"/><rect x="1111.48" y="847.8" width="1.25" height="155.1" fill="#F9766E"/><rect x="1117.72" y="847.8" width="1.25" height="155.1" fill="#FED17F"/><rect x="1118.97" y="847.8" width="1.25" height="155.1" fill="#FCB77A"/><rect x="1122.72" y="847.8" width="1.25" height="155.1" fill="#FCB079"/><rect x="1123.97" y="847.8" width="1.25" height="155.1" fill="#FCB77A"/><rect x="1125.21" y="847.8" width="1.25" height="155.1" fill="#F9766E"/><rect x="1133.95" y="847.8" width="1.25" height="155.1" fill="#FCB77A"/><rect x="1138.94" y="847.8" width="1.25" height="155.1" fill="#FED17F"/><rect x="1140.19" y="847.8" width="1.25" height="155.1" fill="#FA9072"/><rect x="1153.92" y="847.8" width="1.25" height="155.1" fill="#FED17F"/><rect x="1158.92" y="847.8" width="1.25" height="155.1" fill="#FEDE82"/><rect x="1165.16" y="847.8" width="1.25" height="155.1" fill="#FEDE82"/><rect x="1172.65" y="847.8" width="1.25" height="155.1" fill="#FCAA78"/><rect x="1173.89" y="847.8" width="1.25" height="155.1" fill="#FA9072"/><rect x="1176.39" y="847.8" width="1.25" height="155.1" fill="#FB9D75"/><rect x="1178.89" y="847.8" width="1.25" height="155.1" fill="#FEDE82"/><rect x="1185.13" y="847.8" width="1.25" height="155.1" fill="#FCB079"/><rect x="1191.37" y="847.8" width="1.25" height="155.1" fill="#FCB77A"/><rect x="1197.61" y="847.8" width="1.25" height="155.1" fill="#F9766E"/><rect x="1198.86" y="847.8" width="1.25" height="155.1" fill="#FEDE82"/><rect x="1201.36" y="847.8" width="1.25" height="155.1" fill="#FCAA78"/><rect x="1210.09" y="847.8" width="1.25" height="155.1" fill="#FEDE82"/><rect x="1218.83" y="847.8" width="1.25" height="155.1" fill="#F9766E"/><rect x="1225.07" y="847.8" width="1.25" height="155.1" fill="#FCB079"/><rect x="1226.32" y="847.8" width="1.25" height="155.1" fill="#FCB77A"/><rect x="1231.31" y="847.8" width="1.25" height="155.1" fill="#FCAA78"/><rect x="1236.31" y="847.8" width="1.25" height="155.1" fill="#FED17F"/><rect x="1238.80" y="847.8" width="1.25" height="155.1" fill="#FCB77A"/><rect x="1242.55" y="847.8" width="1.25" height="155.1" fill="#FED17F"/><rect x="1246.29" y="847.8" width="1.25" height="155.1" fill="#FCB079"/><rect x="1248.79" y="847.8" width="2.50" height="155.1" fill="#FA9072"/><rect x="1251.28" y="847.8" width="1.25" height="155.1" fill="#FEDE82"/><rect x="1255.03" y="847.8" width="1.25" height="155.1" fill="#FCB079"/><rect x="1270.01" y="847.8" width="1.25" height="155.1" fill="#FCAA78"/><rect x="1273.75" y="847.8" width="1.25" height="155.1" fill="#FA9072"/>
<rect x="577.25" y="1002.9" width="2.50" height="160.6" fill="#FEDE82"/><rect x="580.99" y="1002.9" width="1.25" height="160.6" fill="#F9766E"/><rect x="582.24" y="1002.9" width="1.25" height="160.6" fill="#FCB77A"/><rect x="590.98" y="1002.9" width="1.25" height="160.6" fill="#FED17F"/><rect x="593.48" y="1002.9" width="1.25" height="160.6" fill="#FEDE82"/><rect x="604.71" y="1002.9" width="1.25" height="160.6" fill="#FEDE82"/><rect x="605.96" y="1002.9" width="1.25" height="160.6" fill="#FB9D75"/><rect x="607.21" y="1002.9" width="1.25" height="160.6" fill="#FCAA78"/><rect x="608.45" y="1002.9" width="1.25" height="160.6" fill="#FEDE82"/><rect x="610.95" y="1002.9" width="1.25" height="160.6" fill="#FEDE82"/><rect x="620.94" y="1002.9" width="2.50" height="160.6" fill="#FEDE82"/><rect x="630.92" y="1002.9" width="1.25" height="160.6" fill="#FED17F"/><rect x="633.42" y="1002.9" width="1.25" height="160.6" fill="#FCB079"/><rect x="635.91" y="1002.9" width="2.50" height="160.6" fill="#FEDE82"/><rect x="639.66" y="1002.9" width="1.25" height="160.6" fill="#FED17F"/><rect x="644.65" y="1002.9" width="1.25" height="160.6" fill="#FCB77A"/><rect x="649.64" y="1002.9" width="1.25" height="160.6" fill="#FEDE82"/><rect x="650.89" y="1002.9" width="1.25" height="160.6" fill="#FED17F"/><rect x="653.39" y="1002.9" width="1.25" height="160.6" fill="#FEDE82"/><rect x="657.13" y="1002.9" width="1.25" height="160.6" fill="#FCB079"/><rect x="662.13" y="1002.9" width="1.25" height="160.6" fill="#FCB079"/><rect x="664.62" y="1002.9" width="1.25" height="160.6" fill="#FA9072"/><rect x="665.87" y="1002.9" width="1.25" height="160.6" fill="#FEDE82"/><rect x="677.11" y="1002.9" width="1.25" height="160.6" fill="#FCB77A"/><rect x="682.10" y="1002.9" width="1.25" height="160.6" fill="#FCB77A"/><rect x="683.35" y="1002.9" width="1.25" height="160.6" fill="#FB9D75"/><rect x="687.09" y="1002.9" width="1.25" height="160.6" fill="#FEDE82"/><rect x="690.84" y="1002.9" width="1.25" height="160.6" fill="#FCB079"/><rect x="698.33" y="1002.9" width="2.50" height="160.6" fill="#FEDE82"/><rect x="708.31" y="1002.9" width="1.25" height="160.6" fill="#F9766E"/><rect x="709.56" y="1002.9" width="1.25" height="160.6" fill="#FED17F"/><rect x="713.30" y="1002.9" width="1.25" height="160.6" fill="#FA9072"/><rect x="717.05" y="1002.9" width="1.25" height="160.6" fill="#FCB079"/><rect x="719.54" y="1002.9" width="1.25" height="160.6" fill="#FEDE82"/><rect x="723.29" y="1002.9" width="1.25" height="160.6" fill="#FA9072"/><rect x="725.79" y="1002.9" width="1.25" height="160.6" fill="#FCB77A"/><rect x="729.53" y="1002.9" width="1.25" height="160.6" fill="#FCB77A"/><rect x="733.27" y="1002.9" width="1.25" height="160.6" fill="#FB9D75"/><rect x="734.52" y="1002.9" width="1.25" height="160.6" fill="#F9766E"/><rect x="737.02" y="1002.9" width="1.25" height="160.6" fill="#FED17F"/><rect x="748.25" y="1002.9" width="1.25" height="160.6" fill="#F9766E"/><rect x="752.00" y="1002.9" width="1.25" height="160.6" fill="#FCAA78"/><rect x="754.49" y="1002.9" width="2.50" height="160.6" fill="#FEDE82"/><rect x="763.23" y="1002.9" width="1.25" height="160.6" fill="#FEDE82"/><rect x="770.72" y="1002.9" width="1.25" height="160.6" fill="#FEDE82"/><rect x="775.71" y="1002.9" width="1.25" height="160.6" fill="#FED17F"/><rect x="778.21" y="1002.9" width="1.25" height="160.6" fill="#FEDE82"/><rect x="779.46" y="1002.9" width="1.25" height="160.6" fill="#FCAA78"/><rect x="781.96" y="1002.9" width="1.25" height="160.6" fill="#FCAA78"/><rect x="788.20" y="1002.9" width="1.25" height="160.6" fill="#FED17F"/><rect x="789.44" y="1002.9" width="1.25" height="160.6" fill="#FA9072"/><rect x="790.69" y="1002.9" width="1.25" height="160.6" fill="#FCB77A"/><rect x="791.94" y="1002.9" width="1.25" height="160.6" fill="#FEDE82"/><rect x="795.69" y="1002.9" width="1.25" height="160.6" fill="#FCAA78"/><rect x="796.93" y="1002.9" width="1.25" height="160.6" fill="#F98370"/><rect x="798.18" y="1002.9" width="1.25" height="160.6" fill="#F8706C"/><rect x="803.17" y="1002.9" width="2.50" height="160.6" fill="#F8706C"/><rect x="809.42" y="1002.9" width="1.25" height="160.6" fill="#FEDE82"/><rect x="813.16" y="1002.9" width="1.25" height="160.6" fill="#FCAA78"/><rect x="816.91" y="1002.9" width="1.25" height="160.6" fill="#FEDE82"/><rect x="819.40" y="1002.9" width="1.25" height="160.6" fill="#FEDE82"/><rect x="828.14" y="1002.9" width="1.25" height="160.6" fill="#FA9674"/><rect x="836.88" y="1002.9" width="1.25" height="160.6" fill="#FBA476"/><rect x="846.86" y="1002.9" width="1.25" height="160.6" fill="#FCAA78"/><rect x="848.11" y="1002.9" width="1.25" height="160.6" fill="#FEDE82"/><rect x="850.61" y="1002.9" width="1.25" height="160.6" fill="#FED17F"/><rect x="851.86" y="1002.9" width="1.25" height="160.6" fill="#F8706C"/><rect x="855.60" y="1002.9" width="1.25" height="160.6" fill="#FA9674"/><rect x="856.85" y="1002.9" width="1.25" height="160.6" fill="#FCAA78"/><rect x="859.34" y="1002.9" width="1.25" height="160.6" fill="#FA9072"/><rect x="860.59" y="1002.9" width="1.25" height="160.6" fill="#FBA476"/><rect x="861.84" y="1002.9" width="1.25" height="160.6" fill="#FA9674"/><rect x="863.09" y="1002.9" width="1.25" height="160.6" fill="#F98370"/><rect x="866.83" y="1002.9" width="1.25" height="160.6" fill="#FEDE82"/><rect x="869.33" y="1002.9" width="1.25" height="160.6" fill="#FCAA78"/><rect x="870.58" y="1002.9" width="1.25" height="160.6" fill="#FA9674"/><rect x="871.83" y="1002.9" width="1.25" height="160.6" fill="#FA9072"/><rect x="873.08" y="1002.9" width="1.25" height="160.6" fill="#FCAA78"/><rect x="875.57" y="1002.9" width="1.25" height="160.6" fill="#F98370"/><rect x="880.56" y="1002.9" width="1.25" height="160.6" fill="#FCAA78"/><rect x="881.81" y="1002.9" width="1.25" height="160.6" fill="#FA9072"/><rect x="884.31" y="1002.9" width="1.25" height="160.6" fill="#FA9674"/><rect x="888.05" y="1002.9" width="1.25" height="160.6" fill="#FA9072"/><rect x="889.30" y="1002.9" width="1.25" height="160.6" fill="#F8706C"/><rect x="890.55" y="1002.9" width="1.25" height="160.6" fill="#FEDE82"/><rect x="898.04" y="1002.9" width="1.25" height="160.6" fill="#F8706C"/><rect x="899.29" y="1002.9" width="1.25" height="160.6" fill="#F98370"/><rect x="901.78" y="1002.9" width="1.25" height="160.6" fill="#F98370"/><rect x="905.53" y="1002.9" width="1.25" height="160.6" fill="#FED17F"/><rect x="908.02" y="1002.9" width="1.25" height="160.6" fill="#FEDE82"/><rect x="910.52" y="1002.9" width="1.25" height="160.6" fill="#FCAA78"/><rect x="918.01" y="1002.9" width="1.25" height="160.6" fill="#FEDE82"/><rect x="919.26" y="1002.9" width="1.25" height="160.6" fill="#FA9674"/><rect x="920.51" y="1002.9" width="1.25" height="160.6" fill="#FCAA78"/><rect x="921.76" y="1002.9" width="1.25" height="160.6" fill="#FA9674"/><rect x="923.00" y="1002.9" width="1.25" height="160.6" fill="#FED17F"/><rect x="925.50" y="1002.9" width="1.25" height="160.6" fill="#FA9072"/><rect x="926.75" y="1002.9" width="1.25" height="160.6" fill="#FBA476"/><rect x="928.00" y="1002.9" width="2.50" height="160.6" fill="#FA9072"/><rect x="931.74" y="1002.9" width="1.25" height="160.6" fill="#FA9072"/><rect x="932.99" y="1002.9" width="1.25" height="160.6" fill="#F8706C"/><rect x="940.48" y="1002.9" width="1.25" height="160.6" fill="#FCAA78"/><rect x="942.98" y="1002.9" width="1.25" height="160.6" fill="#FCAA78"/><rect x="945.47" y="1002.9" width="1.25" height="160.6" fill="#FEDE82"/><rect x="947.97" y="1002.9" width="1.25" height="160.6" fill="#FA9072"/><rect x="949.22" y="1002.9" width="1.25" height="160.6" fill="#FEDE82"/><rect x="950.46" y="1002.9" width="1.25" height="160.6" fill="#FA9072"/><rect x="952.96" y="1002.9" width="2.50" height="160.6" fill="#FEDE82"/><rect x="955.46" y="1002.9" width="1.25" height="160.6" fill="#F98370"/><rect x="956.71" y="1002.9" width="1.25" height="160.6" fill="#F8706C"/><rect x="962.95" y="1002.9" width="2.50" height="160.6" fill="#FEDE82"/><rect x="966.69" y="1002.9" width="1.25" height="160.6" fill="#F8706C"/><rect x="970.44" y="1002.9" width="1.25" height="160.6" fill="#FEDE82"/><rect x="971.68" y="1002.9" width="1.25" height="160.6" fill="#FED17F"/><rect x="972.93" y="1002.9" width="1.25" height="160.6" fill="#F97C6F"/><rect x="976.68" y="1002.9" width="1.25" height="160.6" fill="#F98370"/><rect x="977.92" y="1002.9" width="1.25" height="160.6" fill="#FA9072"/><rect x="979.17" y="1002.9" width="1.25" height="160.6" fill="#F8706C"/><rect x="981.67" y="1002.9" width="1.25" height="160.6" fill="#FEDE82"/><rect x="984.17" y="1002.9" width="1.25" height="160.6" fill="#F8706C"/><rect x="986.66" y="1002.9" width="1.25" height="160.6" fill="#FEDE82"/><rect x="989.16" y="1002.9" width="1.25" height="160.6" fill="#FEDE82"/><rect x="990.41" y="1002.9" width="1.25" height="160.6" fill="#F97C6F"/><rect x="991.66" y="1002.9" width="2.50" height="160.6" fill="#FA9072"/><rect x="994.15" y="1002.9" width="1.25" height="160.6" fill="#F8706C"/><rect x="995.40" y="1002.9" width="1.25" height="160.6" fill="#F98370"/><rect x="996.65" y="1002.9" width="1.25" height="160.6" fill="#FA9072"/><rect x="997.90" y="1002.9" width="1.25" height="160.6" fill="#F97C6F"/><rect x="999.14" y="1002.9" width="1.25" height="160.6" fill="#F98370"/><rect x="1000.39" y="1002.9" width="2.50" height="160.6" fill="#F8706C"/><rect x="1002.89" y="1002.9" width="2.50" height="160.6" fill="#F97C6F"/><rect x="1006.63" y="1002.9" width="1.25" height="160.6" fill="#F8706C"/><rect x="1007.88" y="1002.9" width="1.25" height="160.6" fill="#FEDE82"/><rect x="1009.13" y="1002.9" width="1.25" height="160.6" fill="#F98370"/><rect x="1010.38" y="1002.9" width="1.25" height="160.6" fill="#FA9072"/><rect x="1011.63" y="1002.9" width="1.25" height="160.6" fill="#F98370"/><rect x="1012.88" y="1002.9" width="1.25" height="160.6" fill="#F97C6F"/><rect x="1014.12" y="1002.9" width="1.25" height="160.6" fill="#FEDE82"/><rect x="1020.36" y="1002.9" width="1.25" height="160.6" fill="#F97C6F"/><rect x="1021.61" y="1002.9" width="1.25" height="160.6" fill="#FA8A71"/><rect x="1022.86" y="1002.9" width="1.25" height="160.6" fill="#F98370"/><rect x="1024.11" y="1002.9" width="1.25" height="160.6" fill="#FB9D75"/><rect x="1025.36" y="1002.9" width="1.25" height="160.6" fill="#FA9072"/><rect x="1026.61" y="1002.9" width="1.25" height="160.6" fill="#FB9D75"/><rect x="1027.85" y="1002.9" width="1.25" height="160.6" fill="#F98370"/><rect x="1030.35" y="1002.9" width="1.25" height="160.6" fill="#F98370"/><rect x="1031.60" y="1002.9" width="1.25" height="160.6" fill="#FA9072"/><rect x="1032.85" y="1002.9" width="1.25" height="160.6" fill="#FB9D75"/><rect x="1034.09" y="1002.9" width="1.25" height="160.6" fill="#FA9072"/><rect x="1036.59" y="1002.9" width="1.25" height="160.6" fill="#FED17F"/><rect x="1037.84" y="1002.9" width="1.25" height="160.6" fill="#F8706C"/><rect x="1039.09" y="1002.9" width="1.25" height="160.6" fill="#FA8A71"/><rect x="1040.34" y="1002.9" width="1.25" height="160.6" fill="#F98370"/><rect x="1041.58" y="1002.9" width="1.25" height="160.6" fill="#FA9072"/><rect x="1042.83" y="1002.9" width="1.25" height="160.6" fill="#F98370"/><rect x="1044.08" y="1002.9" width="1.25" height="160.6" fill="#FA8A71"/><rect x="1045.33" y="1002.9" width="1.25" height="160.6" fill="#FA9072"/><rect x="1047.83" y="1002.9" width="1.25" height="160.6" fill="#F8706C"/><rect x="1050.32" y="1002.9" width="1.25" height="160.6" fill="#FEDE82"/><rect x="1051.57" y="1002.9" width="1.25" height="160.6" fill="#FB9D75"/><rect x="1052.82" y="1002.9" width="1.25" height="160.6" fill="#F97C6F"/><rect x="1054.07" y="1002.9" width="1.25" height="160.6" fill="#FB9D75"/><rect x="1055.31" y="1002.9" width="2.50" height="160.6" fill="#F98370"/><rect x="1057.81" y="1002.9" width="1.25" height="160.6" fill="#F8706C"/><rect x="1059.06" y="1002.9" width="1.25" height="160.6" fill="#FB9D75"/><rect x="1060.31" y="1002.9" width="1.25" height="160.6" fill="#FA8A71"/><rect x="1061.56" y="1002.9" width="1.25" height="160.6" fill="#F8706C"/><rect x="1062.80" y="1002.9" width="1.25" height="160.6" fill="#FB9D75"/><rect x="1064.05" y="1002.9" width="1.25" height="160.6" fill="#FA9072"/><rect x="1065.30" y="1002.9" width="1.25" height="160.6" fill="#F98370"/><rect x="1066.55" y="1002.9" width="1.25" height="160.6" fill="#FA8A71"/><rect x="1067.80" y="1002.9" width="1.25" height="160.6" fill="#FA9072"/><rect x="1069.04" y="1002.9" width="1.25" height="160.6" fill="#F98370"/><rect x="1071.54" y="1002.9" width="1.25" height="160.6" fill="#FA8A71"/><rect x="1072.79" y="1002.9" width="1.25" height="160.6" fill="#FA9072"/><rect x="1074.04" y="1002.9" width="1.25" height="160.6" fill="#F98370"/><rect x="1076.53" y="1002.9" width="1.25" height="160.6" fill="#F97C6F"/><rect x="1077.78" y="1002.9" width="1.25" height="160.6" fill="#FB9D75"/><rect x="1079.03" y="1002.9" width="1.25" height="160.6" fill="#F98370"/><rect x="1080.28" y="1002.9" width="2.50" height="160.6" fill="#F8706C"/><rect x="1084.02" y="1002.9" width="1.25" height="160.6" fill="#FEDE82"/><rect x="1085.27" y="1002.9" width="1.25" height="160.6" fill="#F98370"/><rect x="1086.52" y="1002.9" width="1.25" height="160.6" fill="#FA8A71"/><rect x="1087.77" y="1002.9" width="1.25" height="160.6" fill="#FB9D75"/><rect x="1089.02" y="1002.9" width="1.25" height="160.6" fill="#F98370"/><rect x="1090.26" y="1002.9" width="1.25" height="160.6" fill="#F8706C"/><rect x="1091.51" y="1002.9" width="1.25" height="160.6" fill="#F98370"/><rect x="1092.76" y="1002.9" width="1.25" height="160.6" fill="#F8706C"/><rect x="1094.01" y="1002.9" width="1.25" height="160.6" fill="#FEDE82"/><rect x="1095.26" y="1002.9" width="1.25" height="160.6" fill="#FB9D75"/><rect x="1096.51" y="1002.9" width="1.25" height="160.6" fill="#F97C6F"/><rect x="1097.75" y="1002.9" width="1.25" height="160.6" fill="#FA9072"/><rect x="1099.00" y="1002.9" width="1.25" height="160.6" fill="#F97C6F"/><rect x="1100.25" y="1002.9" width="1.25" height="160.6" fill="#F98370"/><rect x="1101.50" y="1002.9" width="1.25" height="160.6" fill="#FA9072"/><rect x="1102.75" y="1002.9" width="3.74" height="160.6" fill="#F98370"/><rect x="1111.48" y="1002.9" width="1.25" height="160.6" fill="#FB9D75"/><rect x="1113.98" y="1002.9" width="1.25" height="160.6" fill="#F8706C"/><rect x="1115.23" y="1002.9" width="1.25" height="160.6" fill="#FA8A71"/><rect x="1116.48" y="1002.9" width="1.25" height="160.6" fill="#FB9D75"/><rect x="1117.72" y="1002.9" width="1.25" height="160.6" fill="#F97C6F"/><rect x="1118.97" y="1002.9" width="1.25" height="160.6" fill="#FA9072"/><rect x="1120.22" y="1002.9" width="1.25" height="160.6" fill="#F97C6F"/><rect x="1121.47" y="1002.9" width="1.25" height="160.6" fill="#FA9072"/><rect x="1123.97" y="1002.9" width="1.25" height="160.6" fill="#F8706C"/><rect x="1125.21" y="1002.9" width="3.74" height="160.6" fill="#F98370"/><rect x="1128.96" y="1002.9" width="1.25" height="160.6" fill="#FED17F"/><rect x="1131.46" y="1002.9" width="1.25" height="160.6" fill="#F97C6F"/><rect x="1132.70" y="1002.9" width="1.25" height="160.6" fill="#FA9072"/><rect x="1133.95" y="1002.9" width="1.25" height="160.6" fill="#F97C6F"/><rect x="1135.20" y="1002.9" width="1.25" height="160.6" fill="#FA9072"/><rect x="1136.45" y="1002.9" width="1.25" height="160.6" fill="#F98370"/><rect x="1137.70" y="1002.9" width="1.25" height="160.6" fill="#FA9072"/><rect x="1140.19" y="1002.9" width="3.74" height="160.6" fill="#F98370"/><rect x="1143.94" y="1002.9" width="1.25" height="160.6" fill="#FA9072"/><rect x="1145.19" y="1002.9" width="1.25" height="160.6" fill="#F8706C"/><rect x="1146.43" y="1002.9" width="1.25" height="160.6" fill="#FA8A71"/><rect x="1147.68" y="1002.9" width="1.25" height="160.6" fill="#F98370"/><rect x="1148.93" y="1002.9" width="1.25" height="160.6" fill="#F97C6F"/><rect x="1150.18" y="1002.9" width="1.25" height="160.6" fill="#FB9D75"/><rect x="1151.43" y="1002.9" width="1.25" height="160.6" fill="#FEDE82"/><rect x="1152.67" y="1002.9" width="1.25" height="160.6" fill="#F98370"/><rect x="1153.92" y="1002.9" width="1.25" height="160.6" fill="#FA8A71"/><rect x="1160.16" y="1002.9" width="1.25" height="160.6" fill="#FA9072"/><rect x="1161.41" y="1002.9" width="1.25" height="160.6" fill="#F8706C"/><rect x="1162.66" y="1002.9" width="1.25" height="160.6" fill="#FA8A71"/><rect x="1165.16" y="1002.9" width="1.25" height="160.6" fill="#FA9072"/><rect x="1166.41" y="1002.9" width="1.25" height="160.6" fill="#FB9D75"/><rect x="1167.65" y="1002.9" width="1.25" height="160.6" fill="#FEDE82"/><rect x="1168.90" y="1002.9" width="2.50" height="160.6" fill="#FA9072"/><rect x="1171.40" y="1002.9" width="1.25" height="160.6" fill="#F98370"/><rect x="1173.89" y="1002.9" width="2.50" height="160.6" fill="#F98370"/><rect x="1176.39" y="1002.9" width="1.25" height="160.6" fill="#F97C6F"/><rect x="1177.64" y="1002.9" width="1.25" height="160.6" fill="#FB9D75"/><rect x="1178.89" y="1002.9" width="3.74" height="160.6" fill="#F98370"/><rect x="1182.63" y="1002.9" width="1.25" height="160.6" fill="#FEDE82"/><rect x="1183.88" y="1002.9" width="1.25" height="160.6" fill="#F8706C"/><rect x="1185.13" y="1002.9" width="1.25" height="160.6" fill="#FA9072"/><rect x="1186.38" y="1002.9" width="1.25" height="160.6" fill="#FB9D75"/><rect x="1190.12" y="1002.9" width="1.25" height="160.6" fill="#FA8A71"/><rect x="1191.37" y="1002.9" width="1.25" height="160.6" fill="#FA9072"/><rect x="1193.87" y="1002.9" width="1.25" height="160.6" fill="#F8706C"/><rect x="1195.11" y="1002.9" width="1.25" height="160.6" fill="#FB9D75"/><rect x="1196.36" y="1002.9" width="1.25" height="160.6" fill="#F97C6F"/><rect x="1198.86" y="1002.9" width="2.50" height="160.6" fill="#FA9072"/><rect x="1201.36" y="1002.9" width="1.25" height="160.6" fill="#F8706C"/><rect x="1202.60" y="1002.9" width="1.25" height="160.6" fill="#F97C6F"/><rect x="1203.85" y="1002.9" width="1.25" height="160.6" fill="#FB9D75"/><rect x="1205.10" y="1002.9" width="1.25" height="160.6" fill="#F8706C"/><rect x="1206.35" y="1002.9" width="1.25" height="160.6" fill="#F98370"/><rect x="1208.84" y="1002.9" width="1.25" height="160.6" fill="#F98370"/><rect x="1211.34" y="1002.9" width="1.25" height="160.6" fill="#F8706C"/><rect x="1213.84" y="1002.9" width="2.50" height="160.6" fill="#FB9D75"/><rect x="1217.58" y="1002.9" width="1.25" height="160.6" fill="#F8706C"/><rect x="1218.83" y="1002.9" width="1.25" height="160.6" fill="#FB9D75"/><rect x="1220.08" y="1002.9" width="1.25" height="160.6" fill="#FA8A71"/><rect x="1222.58" y="1002.9" width="3.74" height="160.6" fill="#F98370"/><rect x="1226.32" y="1002.9" width="1.25" height="160.6" fill="#FB9D75"/><rect x="1227.57" y="1002.9" width="1.25" height="160.6" fill="#F98370"/><rect x="1228.82" y="1002.9" width="1.25" height="160.6" fill="#F8706C"/><rect x="1230.06" y="1002.9" width="1.25" height="160.6" fill="#FA9072"/><rect x="1231.31" y="1002.9" width="2.50" height="160.6" fill="#F8706C"/><rect x="1233.81" y="1002.9" width="3.74" height="160.6" fill="#FA9072"/><rect x="1237.55" y="1002.9" width="1.25" height="160.6" fill="#F8706C"/><rect x="1238.80" y="1002.9" width="1.25" height="160.6" fill="#F98370"/><rect x="1240.05" y="1002.9" width="2.50" height="160.6" fill="#FA9072"/><rect x="1242.55" y="1002.9" width="1.25" height="160.6" fill="#F8706C"/><rect x="1243.79" y="1002.9" width="1.25" height="160.6" fill="#F98370"/><rect x="1246.29" y="1002.9" width="1.25" height="160.6" fill="#F8706C"/><rect x="1247.54" y="1002.9" width="1.25" height="160.6" fill="#FA9072"/><rect x="1248.79" y="1002.9" width="1.25" height="160.6" fill="#FB9D75"/><rect x="1250.04" y="1002.9" width="1.25" height="160.6" fill="#F8706C"/><rect x="1251.28" y="1002.9" width="1.25" height="160.6" fill="#FED17F"/><rect x="1252.53" y="1002.9" width="1.25" height="160.6" fill="#FA8A71"/><rect x="1253.78" y="1002.9" width="1.25" height="160.6" fill="#F8706C"/><rect x="1255.03" y="1002.9" width="1.25" height="160.6" fill="#FA8A71"/><rect x="1257.53" y="1002.9" width="1.25" height="160.6" fill="#F8706C"/><rect x="1258.77" y="1002.9" width="1.25" height="160.6" fill="#FA8A71"/><rect x="1260.02" y="1002.9" width="1.25" height="160.6" fill="#F98370"/><rect x="1261.27" y="1002.9" width="1.25" height="160.6" fill="#FED17F"/><rect x="1262.52" y="1002.9" width="1.25" height="160.6" fill="#FEDE82"/><rect x="1265.01" y="1002.9" width="2.50" height="160.6" fill="#F98370"/><rect x="1267.51" y="1002.9" width="1.25" height="160.6" fill="#FA9072"/><rect x="1268.76" y="1002.9" width="1.25" height="160.6" fill="#FA8A71"/><rect x="1270.01" y="1002.9" width="1.25" height="160.6" fill="#F97C6F"/><rect x="1271.26" y="1002.9" width="1.25" height="160.6" fill="#FA8A71"/><rect x="1272.50" y="1002.9" width="2.50" height="160.6" fill="#F98370"/>
</g>
<rect x="564.6" y="1232.3" width="224" height="53.5" fill="url(#gBlue)"/>
<rect x="788.5" y="1232.3" width="474.7" height="53.5" fill="url(#gRed)"/>
<text x="338" y="1269.2" font-size="24.3" font-weight="bold" font-style="italic" font-family='"Liberation Serif", serif' textLength="213.5" lengthAdjust="spacing">Log<tspan font-size="18" font-style="normal" font-weight="bold" stroke="#000" stroke-width="0.5" dy="5.5">2</tspan><tspan dy="-4.5" font-size="26.5" font-style="normal" font-weight="normal">[</tspan><tspan dy="-1">Fold change</tspan><tspan dy="1" font-size="26.5" font-style="normal" font-weight="normal">]</tspan></text>
<text x="569.6" y="1322.6" font-size="24.5" font-weight="bold" font-style="italic" text-anchor="middle">-5.6</text>
<text x="755.5" y="1322.6" font-size="24.5" font-weight="bold" font-style="italic" text-anchor="middle">-1</text>
<text x="827.8" y="1322.6" font-size="24.5" font-weight="bold" font-style="italic" text-anchor="middle">1</text>
<text x="1264" y="1322.6" font-size="24.5" font-weight="bold" font-style="italic" text-anchor="middle">5.6</text>
</g>
<g id="panel-d">
<text x="133.2" y="1365.8" font-size="36" font-weight="bold" font-style="italic" text-anchor="start">d</text>
<rect x="477.3" y="1403.10" width="547.7" height="13.0" fill="#FF8080" stroke="#000" stroke-width="2.1"/>
<text x="467.8" y="1414.3" font-size="18.6" font-weight="bold" font-style="normal" text-anchor="end" stroke="#000" stroke-width="0.3">mRNA splicing, via spliceosome</text>
<rect x="477.3" y="1419.12" width="489.1" height="13.0" fill="#FF8080" stroke="#000" stroke-width="2.1"/>
<text x="467.8" y="1430.3" font-size="18.6" font-weight="bold" font-style="normal" text-anchor="end" stroke="#000" stroke-width="0.3">RNA splicing</text>
<rect x="477.3" y="1435.14" width="478.6" height="13.0" fill="#FF8080" stroke="#000" stroke-width="2.1"/>
<text x="467.8" y="1446.3" font-size="18.6" font-weight="bold" font-style="normal" text-anchor="end" stroke="#000" stroke-width="0.3">mRNA processing</text>
<rect x="477.3" y="1451.16" width="419.2" height="13.0" fill="#FF8080" stroke="#000" stroke-width="2.1"/>
<text x="467.8" y="1462.4" font-size="18.6" font-weight="bold" font-style="normal" text-anchor="end" stroke="#000" stroke-width="0.3">translation</text>
<rect x="477.3" y="1467.18" width="375.4" height="13.0" fill="#FF8080" stroke="#000" stroke-width="2.1"/>
<text x="467.8" y="1478.4" font-size="18.6" font-weight="bold" font-style="normal" text-anchor="end" stroke="#000" stroke-width="0.3">rRNA processing</text>
<rect x="477.3" y="1483.20" width="268.8" height="13.0" fill="#FF8080" stroke="#000" stroke-width="2.1"/>
<text x="467.8" y="1494.4" font-size="18.6" font-weight="bold" font-style="normal" text-anchor="end" stroke="#000" stroke-width="0.3">proteasomal ubiquitin</text>
<rect x="477.3" y="1499.22" width="225.4" height="13.0" fill="#FF8080" stroke="#000" stroke-width="2.1"/>
<text x="467.8" y="1510.4" font-size="18.6" font-weight="bold" font-style="normal" text-anchor="end" stroke="#000" stroke-width="0.3">protein folding</text>
<rect x="477.3" y="1515.24" width="210.6" height="13.0" fill="#FF8080" stroke="#000" stroke-width="2.1"/>
<text x="467.8" y="1526.4" font-size="18.6" font-weight="bold" font-style="normal" text-anchor="end" stroke="#000" stroke-width="0.3">proteasome</text>
<rect x="477.3" y="1531.26" width="154.4" height="13.0" fill="#FF8080" stroke="#000" stroke-width="2.1"/>
<text x="467.8" y="1542.5" font-size="18.6" font-weight="bold" font-style="normal" text-anchor="end" stroke="#000" stroke-width="0.3">cytoplasmic translation</text>
<rect x="477.3" y="1547.28" width="150.8" height="13.0" fill="#FF8080" stroke="#000" stroke-width="2.1"/>
<text x="467.8" y="1558.5" font-size="18.6" font-weight="bold" font-style="normal" text-anchor="end" stroke="#000" stroke-width="0.3">mRNA export from nucleus</text>
<rect x="477.3" y="1563.30" width="844.4" height="13.0" fill="#AAAAFF" stroke="#000" stroke-width="2.1"/>
<text x="467.8" y="1574.5" font-size="18.6" font-weight="bold" font-style="normal" text-anchor="end" stroke="#000" stroke-width="0.3">RNA binding</text>
<rect x="477.3" y="1579.32" width="648.2" height="13.0" fill="#AAAAFF" stroke="#000" stroke-width="2.1"/>
<text x="467.8" y="1590.5" font-size="18.6" font-weight="bold" font-style="normal" text-anchor="end" stroke="#000" stroke-width="0.3">ATPase activity</text>
<rect x="477.3" y="1595.34" width="640.4" height="13.0" fill="#AAAAFF" stroke="#000" stroke-width="2.1"/>
<text x="467.8" y="1606.5" font-size="18.6" font-weight="bold" font-style="normal" text-anchor="end" stroke="#000" stroke-width="0.3">structural constituent of ribosome</text>
<rect x="477.3" y="1611.36" width="430.4" height="13.0" fill="#AAAAFF" stroke="#000" stroke-width="2.1"/>
<text x="467.8" y="1622.6" font-size="18.6" font-weight="bold" font-style="normal" text-anchor="end" stroke="#000" stroke-width="0.3">protein binding</text>
<rect x="477.3" y="1627.38" width="318.8" height="13.0" fill="#AAAAFF" stroke="#000" stroke-width="2.1"/>
<text x="467.8" y="1638.6" font-size="18.6" font-weight="bold" font-style="normal" text-anchor="end" stroke="#000" stroke-width="0.3">mRNA binding</text>
<rect x="477.3" y="1643.40" width="240.9" height="13.0" fill="#AAAAFF" stroke="#000" stroke-width="2.1"/>
<text x="467.8" y="1654.6" font-size="18.6" font-weight="bold" font-style="normal" text-anchor="end" stroke="#000" stroke-width="0.3">endopeptidase activity</text>
<rect x="477.3" y="1659.42" width="197.7" height="13.0" fill="#AAAAFF" stroke="#000" stroke-width="2.1"/>
<text x="467.8" y="1670.6" font-size="18.6" font-weight="bold" font-style="normal" text-anchor="end" stroke="#000" stroke-width="0.3">identical protein binding</text>
<rect x="477.3" y="1675.44" width="187.2" height="13.0" fill="#AAAAFF" stroke="#000" stroke-width="2.1"/>
<text x="467.8" y="1686.6" font-size="18.6" font-weight="bold" font-style="normal" text-anchor="end" stroke="#000" stroke-width="0.3">unfolded protein binding</text>
<rect x="477.3" y="1691.46" width="173.1" height="13.0" fill="#AAAAFF" stroke="#000" stroke-width="2.1"/>
<text x="467.8" y="1702.7" font-size="18.6" font-weight="bold" font-style="normal" text-anchor="end" stroke="#000" stroke-width="0.3">threonine</text>
<rect x="477.3" y="1707.48" width="162.6" height="13.0" fill="#AAAAFF" stroke="#000" stroke-width="2.1"/>
<text x="467.8" y="1718.7" font-size="18.6" font-weight="bold" font-style="normal" text-anchor="end" stroke="#000" stroke-width="0.3">rRNA binding</text>
<rect x="477.3" y="1723.50" width="744.0" height="13.0" fill="#FFBBBB" stroke="#000" stroke-width="2.1"/>
<text x="467.8" y="1734.7" font-size="18.6" font-weight="bold" font-style="normal" text-anchor="end" stroke="#000" stroke-width="0.3">nucleus</text>
<rect x="477.3" y="1739.52" width="713.9" height="13.0" fill="#FFBBBB" stroke="#000" stroke-width="2.1"/>
<text x="467.8" y="1750.7" font-size="18.6" font-weight="bold" font-style="normal" text-anchor="end" stroke="#000" stroke-width="0.3">nucleolus</text>
<rect x="477.3" y="1755.54" width="650.2" height="13.0" fill="#FFBBBB" stroke="#000" stroke-width="2.1"/>
<text x="467.8" y="1766.7" font-size="18.6" font-weight="bold" font-style="normal" text-anchor="end" stroke="#000" stroke-width="0.3">nucleoplasm</text>
<rect x="477.3" y="1771.56" width="634.2" height="13.0" fill="#FFBBBB" stroke="#000" stroke-width="2.1"/>
<text x="467.8" y="1782.8" font-size="18.6" font-weight="bold" font-style="normal" text-anchor="end" stroke="#000" stroke-width="0.3">cytoplasm</text>
<rect x="477.3" y="1787.58" width="569.5" height="13.0" fill="#FFBBBB" stroke="#000" stroke-width="2.1"/>
<text x="467.8" y="1798.8" font-size="18.6" font-weight="bold" font-style="normal" text-anchor="end" stroke="#000" stroke-width="0.3">nuclear speck</text>
<rect x="477.3" y="1803.60" width="478.8" height="13.0" fill="#FFBBBB" stroke="#000" stroke-width="2.1"/>
<text x="467.8" y="1814.8" font-size="18.6" font-weight="bold" font-style="normal" text-anchor="end" stroke="#000" stroke-width="0.3">spliceosomal complex</text>
<rect x="477.3" y="1819.62" width="465.9" height="13.0" fill="#FFBBBB" stroke="#000" stroke-width="2.1"/>
<text x="467.8" y="1830.8" font-size="18.6" font-weight="bold" font-style="normal" text-anchor="end" stroke="#000" stroke-width="0.3">organelle membrane</text>
<rect x="477.3" y="1835.64" width="451.7" height="13.0" fill="#FFBBBB" stroke="#000" stroke-width="2.1"/>
<text x="467.8" y="1846.8" font-size="18.6" font-weight="bold" font-style="normal" text-anchor="end" stroke="#000" stroke-width="0.3">cytosol</text>
<rect x="477.3" y="1851.66" width="356.3" height="13.0" fill="#FFBBBB" stroke="#000" stroke-width="2.1"/>
<text x="467.8" y="1862.9" font-size="18.6" font-weight="bold" font-style="normal" text-anchor="end" stroke="#000" stroke-width="0.3">mitochondrial inner membrane</text>
<rect x="477.3" y="1867.68" width="333.7" height="13.0" fill="#FFBBBB" stroke="#000" stroke-width="2.1"/>
<text x="467.8" y="1878.9" font-size="18.6" font-weight="bold" font-style="normal" text-anchor="end" stroke="#000" stroke-width="0.3">ribosome</text>
<path d="M477.3 1401.7 V1882.6" stroke="#000" stroke-width="3.6" stroke-linecap="round" fill="none"/>
<path d="M475.5 1882.6 H1392.6" stroke="#000" stroke-width="4.2" stroke-linecap="butt" fill="none"/>
<text x="477.2" y="1911.0" font-size="18.4" font-weight="bold" font-style="normal" text-anchor="middle">0</text>
<text x="600.9" y="1911.0" font-size="18.4" font-weight="bold" font-style="normal" text-anchor="middle">5</text>
<text x="724.6" y="1911.0" font-size="18.4" font-weight="bold" font-style="normal" text-anchor="middle">10</text>
<text x="848.3" y="1911.0" font-size="18.4" font-weight="bold" font-style="normal" text-anchor="middle">15</text>
<text x="972.0" y="1911.0" font-size="18.4" font-weight="bold" font-style="normal" text-anchor="middle">20</text>
<text x="1095.7" y="1911.0" font-size="18.4" font-weight="bold" font-style="normal" text-anchor="middle">25</text>
<text x="1219.4" y="1911.0" font-size="18.4" font-weight="bold" font-style="normal" text-anchor="middle">30</text>
<text x="1343.1" y="1911.0" font-size="18.4" font-weight="bold" font-style="normal" text-anchor="middle">35</text>
<path d="M477.2 1882.6 V1891.8999999999999 M501.9 1882.6 V1887.8 M526.7 1882.6 V1887.8 M551.4 1882.6 V1887.8 M576.2 1882.6 V1887.8 M600.9 1882.6 V1891.8999999999999 M625.6 1882.6 V1887.8 M650.4 1882.6 V1887.8 M675.1 1882.6 V1887.8 M699.9 1882.6 V1887.8 M724.6 1882.6 V1891.8999999999999 M749.3 1882.6 V1887.8 M774.1 1882.6 V1887.8 M798.8 1882.6 V1887.8 M823.6 1882.6 V1887.8 M848.3 1882.6 V1891.8999999999999 M873.0 1882.6 V1887.8 M897.8 1882.6 V1887.8 M922.5 1882.6 V1887.8 M947.3 1882.6 V1887.8 M972.0 1882.6 V1891.8999999999999 M996.7 1882.6 V1887.8 M1021.5 1882.6 V1887.8 M1046.2 1882.6 V1887.8 M1071.0 1882.6 V1887.8 M1095.7 1882.6 V1891.8999999999999 M1120.4 1882.6 V1887.8 M1145.2 1882.6 V1887.8 M1169.9 1882.6 V1887.8 M1194.7 1882.6 V1887.8 M1219.4 1882.6 V1891.8999999999999 M1244.1 1882.6 V1887.8 M1268.9 1882.6 V1887.8 M1293.6 1882.6 V1887.8 M1318.4 1882.6 V1887.8 M1343.1 1882.6 V1891.8999999999999 M1367.8 1882.6 V1887.8 M1392.6 1882.6 V1887.8 " stroke="#000" stroke-width="3.2" stroke-linecap="round" fill="none"/>
<text x="850.7" y="1952.1" font-size="26.5" font-weight="normal" stroke="#000" stroke-width="0.45" textLength="168" lengthAdjust="spacingAndGlyphs">-log<tspan font-size="15" dy="8.8">10</tspan><tspan dy="-8.8">[P value]</tspan></text>
<rect x="1120.6" y="1395.9" width="50.6" height="24.5" fill="#FF8080" stroke="#000" stroke-width="2.2"/>
<text x="1178.1" y="1416.3" font-size="22.7" font-weight="bold" font-style="normal" text-anchor="start">Biological Process (BP)</text>
<rect x="1120.6" y="1424.8" width="50.6" height="24.5" fill="#AAAAFF" stroke="#000" stroke-width="2.2"/>
<text x="1178.1" y="1445.0" font-size="22.7" font-weight="bold" font-style="normal" text-anchor="start">Molecular Function (MF)</text>
<rect x="1120.6" y="1453.6" width="50.6" height="24.5" fill="#FFBBBB" stroke="#000" stroke-width="2.2"/>
<text x="1178.1" y="1473.6" font-size="22.7" font-weight="bold" font-style="normal" text-anchor="start">Cellular Component (CC)</text>
</g>
<g id="panel-e">
<text x="0.6" y="1951.8" font-size="36" font-weight="bold" font-style="italic" text-anchor="start">e</text>
<rect x="501.6" y="1985.70" width="1091.4" height="13.0" fill="#FF8080" stroke="#000" stroke-width="2.1"/>
<text x="492.0" y="1997.6" font-size="18.6" font-weight="bold" font-style="normal" text-anchor="end" stroke="#000" stroke-width="0.3">mitochondrial respiratory chain complex I assembly</text>
<rect x="501.6" y="2001.73" width="455.9" height="13.0" fill="#FF8080" stroke="#000" stroke-width="2.1"/>
<text x="492.0" y="2013.6" font-size="18.6" font-weight="bold" font-style="normal" text-anchor="end" stroke="#000" stroke-width="0.3">mitochondrial electron transport</text>
<rect x="501.6" y="2017.76" width="275.1" height="13.0" fill="#FF8080" stroke="#000" stroke-width="2.1"/>
<text x="492.0" y="2029.6" font-size="18.6" font-weight="bold" font-style="normal" text-anchor="end" stroke="#000" stroke-width="0.3">negative regulation of endopeptidase activity</text>
<rect x="501.6" y="2033.79" width="245.8" height="13.0" fill="#FF8080" stroke="#000" stroke-width="2.1"/>
<text x="492.0" y="2045.7" font-size="18.6" font-weight="bold" font-style="normal" text-anchor="end" stroke="#000" stroke-width="0.3">muscle contraction</text>
<rect x="501.6" y="2049.82" width="196.1" height="13.0" fill="#FF8080" stroke="#000" stroke-width="2.1"/>
<text x="492.0" y="2061.7" font-size="18.6" font-weight="bold" font-style="normal" text-anchor="end" stroke="#000" stroke-width="0.3">hydrogen ion transmembrane transport</text>
<rect x="501.6" y="2065.85" width="155.1" height="13.0" fill="#FF8080" stroke="#000" stroke-width="2.1"/>
<text x="492.0" y="2077.7" font-size="18.6" font-weight="bold" font-style="normal" text-anchor="end" stroke="#000" stroke-width="0.3">blood coagulation</text>
<rect x="501.6" y="2081.88" width="151.6" height="13.0" fill="#FF8080" stroke="#000" stroke-width="2.1"/>
<text x="492.0" y="2093.7" font-size="18.6" font-weight="bold" font-style="normal" text-anchor="end" stroke="#000" stroke-width="0.3">sarcomere organization</text>
<rect x="501.6" y="2097.91" width="147.6" height="13.0" fill="#FF8080" stroke="#000" stroke-width="2.1"/>
<text x="492.0" y="2109.7" font-size="18.6" font-weight="bold" font-style="normal" text-anchor="end" stroke="#000" stroke-width="0.3">fibrinolysis</text>
<rect x="501.6" y="2113.94" width="111.8" height="13.0" fill="#FF8080" stroke="#000" stroke-width="2.1"/>
<text x="492.0" y="2125.8" font-size="18.6" font-weight="bold" font-style="normal" text-anchor="end" stroke="#000" stroke-width="0.3">mitochondrial ATP synthesis coupled proton transport</text>
<rect x="501.6" y="2129.97" width="106.2" height="13.0" fill="#FF8080" stroke="#000" stroke-width="2.1"/>
<text x="492.0" y="2141.8" font-size="18.6" font-weight="bold" font-style="normal" text-anchor="end" stroke="#000" stroke-width="0.3">cellular oxidant detoxification</text>
<rect x="501.6" y="2146.00" width="341.9" height="13.0" fill="#AAAAFF" stroke="#000" stroke-width="2.1"/>
<text x="492.0" y="2157.8" font-size="18.6" font-weight="bold" font-style="normal" text-anchor="end" stroke="#000" stroke-width="0.3">NADH dehydrogenase (ubiquinone) activity</text>
<rect x="501.6" y="2162.03" width="227.8" height="13.0" fill="#AAAAFF" stroke="#000" stroke-width="2.1"/>
<text x="492.0" y="2173.8" font-size="18.6" font-weight="bold" font-style="normal" text-anchor="end" stroke="#000" stroke-width="0.3">endopeptidase inhibitor activity</text>
<rect x="501.6" y="2178.06" width="196.1" height="13.0" fill="#AAAAFF" stroke="#000" stroke-width="2.1"/>
<text x="492.0" y="2189.8" font-size="18.6" font-weight="bold" font-style="normal" text-anchor="end" stroke="#000" stroke-width="0.3">protein binding</text>
<rect x="501.6" y="2194.09" width="149.2" height="13.0" fill="#AAAAFF" stroke="#000" stroke-width="2.1"/>
<text x="492.0" y="2205.9" font-size="18.6" font-weight="bold" font-style="normal" text-anchor="end" stroke="#000" stroke-width="0.3">identical protein binding</text>
<rect x="501.6" y="2210.12" width="141.9" height="13.0" fill="#AAAAFF" stroke="#000" stroke-width="2.1"/>
<text x="492.0" y="2221.9" font-size="18.6" font-weight="bold" font-style="normal" text-anchor="end" stroke="#000" stroke-width="0.3">calcium ion binding</text>
<rect x="501.6" y="2226.15" width="135.1" height="13.0" fill="#AAAAFF" stroke="#000" stroke-width="2.1"/>
<text x="492.0" y="2237.9" font-size="18.6" font-weight="bold" font-style="normal" text-anchor="end" stroke="#000" stroke-width="0.3">ion channel binding</text>
<rect x="501.6" y="2242.18" width="132.1" height="13.0" fill="#AAAAFF" stroke="#000" stroke-width="2.1"/>
<text x="492.0" y="2253.9" font-size="18.6" font-weight="bold" font-style="normal" text-anchor="end" stroke="#000" stroke-width="0.3">metal ion binding</text>
<rect x="501.6" y="2258.21" width="127.8" height="13.0" fill="#AAAAFF" stroke="#000" stroke-width="2.1"/>
<text x="492.0" y="2269.9" font-size="18.6" font-weight="bold" font-style="normal" text-anchor="end" stroke="#000" stroke-width="0.3">proton-transporting ATP synthase activity</text>
<rect x="501.6" y="2274.24" width="122.2" height="13.0" fill="#AAAAFF" stroke="#000" stroke-width="2.1"/>
<text x="492.0" y="2286.0" font-size="18.6" font-weight="bold" font-style="normal" text-anchor="end" stroke="#000" stroke-width="0.3">FATZ binding</text>
<rect x="501.6" y="2290.27" width="112.9" height="13.0" fill="#AAAAFF" stroke="#000" stroke-width="2.1"/>
<text x="492.0" y="2302.0" font-size="18.6" font-weight="bold" font-style="normal" text-anchor="end" stroke="#000" stroke-width="0.3">NADH dehydrogenase activity</text>
<rect x="501.6" y="2306.30" width="970.4" height="13.0" fill="#FFBBBB" stroke="#000" stroke-width="2.1"/>
<text x="492.0" y="2318.0" font-size="18.6" font-weight="bold" font-style="normal" text-anchor="end" stroke="#000" stroke-width="0.3">mitochondrial respiratory chain complex I</text>
<rect x="501.6" y="2322.33" width="745.8" height="13.0" fill="#FFBBBB" stroke="#000" stroke-width="2.1"/>
<text x="492.0" y="2334.0" font-size="18.6" font-weight="bold" font-style="normal" text-anchor="end" stroke="#000" stroke-width="0.3">mitochondrial inner membrane</text>
<rect x="501.6" y="2338.36" width="454.6" height="13.0" fill="#FFBBBB" stroke="#000" stroke-width="2.1"/>
<text x="492.0" y="2350.0" font-size="18.6" font-weight="bold" font-style="normal" text-anchor="end" stroke="#000" stroke-width="0.3">mitochondrion</text>
<rect x="501.6" y="2354.39" width="273.5" height="13.0" fill="#FFBBBB" stroke="#000" stroke-width="2.1"/>
<text x="492.0" y="2366.1" font-size="18.6" font-weight="bold" font-style="normal" text-anchor="end" stroke="#000" stroke-width="0.3">Z disc</text>
<rect x="501.6" y="2370.42" width="226.1" height="13.0" fill="#FFBBBB" stroke="#000" stroke-width="2.1"/>
<text x="492.0" y="2382.1" font-size="18.6" font-weight="bold" font-style="normal" text-anchor="end" stroke="#000" stroke-width="0.3">respiratory chain</text>
<rect x="501.6" y="2386.45" width="190.2" height="13.0" fill="#FFBBBB" stroke="#000" stroke-width="2.1"/>
<text x="492.0" y="2398.1" font-size="18.6" font-weight="bold" font-style="normal" text-anchor="end" stroke="#000" stroke-width="0.3">endoplasmic reticulum membrane</text>
<rect x="501.6" y="2402.48" width="181.2" height="13.0" fill="#FFBBBB" stroke="#000" stroke-width="2.1"/>
<text x="492.0" y="2414.1" font-size="18.6" font-weight="bold" font-style="normal" text-anchor="end" stroke="#000" stroke-width="0.3">respiratory chain complex IV</text>
<rect x="501.6" y="2418.51" width="178.1" height="13.0" fill="#FFBBBB" stroke="#000" stroke-width="2.1"/>
<text x="492.0" y="2430.1" font-size="18.6" font-weight="bold" font-style="normal" text-anchor="end" stroke="#000" stroke-width="0.3">mitochondrial proton</text>
<rect x="501.6" y="2434.54" width="171.5" height="13.0" fill="#FFBBBB" stroke="#000" stroke-width="2.1"/>
<text x="492.0" y="2446.2" font-size="18.6" font-weight="bold" font-style="normal" text-anchor="end" stroke="#000" stroke-width="0.3">sarcoplasmic reticulum membrane</text>
<rect x="501.6" y="2450.57" width="159.4" height="13.0" fill="#FFBBBB" stroke="#000" stroke-width="2.1"/>
<text x="492.0" y="2462.2" font-size="18.6" font-weight="bold" font-style="normal" text-anchor="end" stroke="#000" stroke-width="0.3">extrinsic component of mitochondrial inner membrane</text>
<path d="M501.6 1984.7 V2464.8" stroke="#000" stroke-width="3.6" stroke-linecap="round" fill="none"/>
<path d="M499.8 2464.8 H1620.6" stroke="#000" stroke-width="4.2" stroke-linecap="butt" fill="none"/>
<text x="501.3" y="2493.2" font-size="18.4" font-weight="bold" font-style="normal" text-anchor="middle">0</text>
<text x="652.4" y="2493.2" font-size="18.4" font-weight="bold" font-style="normal" text-anchor="middle">5</text>
<text x="803.5" y="2493.2" font-size="18.4" font-weight="bold" font-style="normal" text-anchor="middle">10</text>
<text x="954.6" y="2493.2" font-size="18.4" font-weight="bold" font-style="normal" text-anchor="middle">15</text>
<text x="1105.7" y="2493.2" font-size="18.4" font-weight="bold" font-style="normal" text-anchor="middle">20</text>
<text x="1256.8" y="2493.2" font-size="18.4" font-weight="bold" font-style="normal" text-anchor="middle">25</text>
<text x="1407.9" y="2493.2" font-size="18.4" font-weight="bold" font-style="normal" text-anchor="middle">30</text>
<text x="1559.0" y="2493.2" font-size="18.4" font-weight="bold" font-style="normal" text-anchor="middle">35</text>
<path d="M501.3 2464.8 V2474.1000000000004 M531.5 2464.8 V2470.0 M561.7 2464.8 V2470.0 M592.0 2464.8 V2470.0 M622.2 2464.8 V2470.0 M652.4 2464.8 V2474.1000000000004 M682.6 2464.8 V2470.0 M712.8 2464.8 V2470.0 M743.1 2464.8 V2470.0 M773.3 2464.8 V2470.0 M803.5 2464.8 V2474.1000000000004 M833.7 2464.8 V2470.0 M863.9 2464.8 V2470.0 M894.2 2464.8 V2470.0 M924.4 2464.8 V2470.0 M954.6 2464.8 V2474.1000000000004 M984.8 2464.8 V2470.0 M1015.0 2464.8 V2470.0 M1045.3 2464.8 V2470.0 M1075.5 2464.8 V2470.0 M1105.7 2464.8 V2474.1000000000004 M1135.9 2464.8 V2470.0 M1166.1 2464.8 V2470.0 M1196.4 2464.8 V2470.0 M1226.6 2464.8 V2470.0 M1256.8 2464.8 V2474.1000000000004 M1287.0 2464.8 V2470.0 M1317.2 2464.8 V2470.0 M1347.5 2464.8 V2470.0 M1377.7 2464.8 V2470.0 M1407.9 2464.8 V2474.1000000000004 M1438.1 2464.8 V2470.0 M1468.3 2464.8 V2470.0 M1498.6 2464.8 V2470.0 M1528.8 2464.8 V2470.0 M1559.0 2464.8 V2474.1000000000004 M1589.2 2464.8 V2470.0 M1619.4 2464.8 V2470.0 " stroke="#000" stroke-width="3.2" stroke-linecap="round" fill="none"/>
<text x="975.0" y="2535" font-size="26.5" font-weight="normal" stroke="#000" stroke-width="0.45" textLength="168" lengthAdjust="spacingAndGlyphs">-log<tspan font-size="15" dy="8.8">10</tspan><tspan dy="-8.8">[P value]</tspan></text>
<rect x="1260.0" y="2049.8" width="50.6" height="24.5" fill="#FF8080" stroke="#000" stroke-width="2.2"/>
<text x="1317.5" y="2070.2" font-size="22.7" font-weight="bold" font-style="normal" text-anchor="start">Biological Process (BP)</text>
<rect x="1260.0" y="2078.7" width="50.6" height="24.5" fill="#AAAAFF" stroke="#000" stroke-width="2.2"/>
<text x="1317.5" y="2098.9" font-size="22.7" font-weight="bold" font-style="normal" text-anchor="start">Molecular Function (MF)</text>
<rect x="1260.0" y="2107.5" width="50.6" height="24.5" fill="#FFBBBB" stroke="#000" stroke-width="2.2"/>
<text x="1317.5" y="2127.5" font-size="22.7" font-weight="bold" font-style="normal" text-anchor="start">Cellular Component (CC)</text>
</g>
</svg>
</body>
</html>
